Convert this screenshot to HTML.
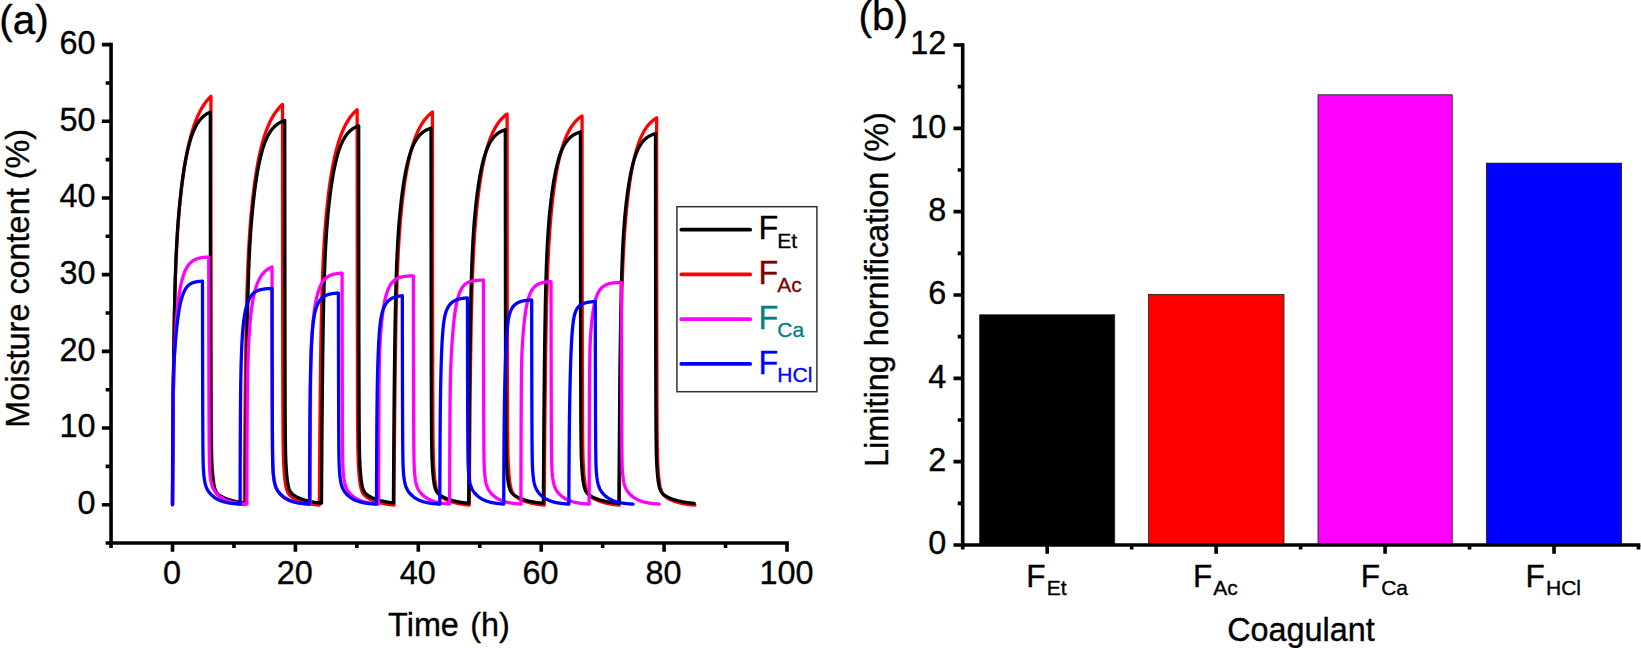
<!DOCTYPE html>
<html lang="en">
<head>
<meta charset="utf-8">
<title>Moisture content and limiting hornification</title>
<style>html,body{margin:0;padding:0;background:#fff;}body{width:1641px;height:648px;overflow:hidden;}svg{display:block;}text{white-space:pre;}</style>
</head>
<body>
<svg width="1641" height="648" viewBox="0 0 1641 648">
<rect x="0" y="0" width="1641" height="648" fill="#fff"/>
<g fill="none" stroke-width="3.3" stroke-linejoin="round" stroke-linecap="round">
<path stroke="#ff0000" d="M172.50 504.70L172.50 504.57L172.50 504.12L172.51 503.28L172.52 502.04L172.53 500.37L172.54 498.26L172.55 495.71L172.57 492.72L172.59 489.29L172.62 485.43L172.64 481.16L172.67 476.49L172.71 471.44L172.74 466.03L172.78 460.30L172.83 454.27L172.87 447.97L172.92 441.43L172.97 434.68L173.03 427.75L173.09 420.68L173.16 413.51L173.22 406.26L173.29 398.96L173.37 391.65L173.45 384.35L173.53 377.10L173.61 369.91L173.70 362.81L173.80 355.83L173.89 348.97L173.99 342.25L174.10 335.70L174.21 329.31L174.32 323.10L174.44 317.08L174.56 311.24L174.68 305.59L174.81 300.14L174.94 294.87L175.08 289.79L175.22 284.89L175.36 280.17L175.51 275.63L175.66 271.24L175.82 267.01L175.98 262.93L176.14 258.99L176.31 255.19L176.49 251.50L176.66 247.94L176.85 244.48L177.03 241.12L177.22 237.85L177.42 234.67L177.62 231.56L177.82 228.53L178.03 225.57L178.24 222.67L178.45 219.83L178.68 217.05L178.90 214.31L179.13 211.63L179.36 208.98L179.60 206.38L179.84 203.82L180.09 201.30L180.34 198.81L180.60 196.37L180.86 193.95L181.12 191.57L181.39 189.22L181.67 186.91L181.95 184.62L182.23 182.37L182.52 180.15L182.81 177.97L183.11 175.81L183.41 173.68L183.71 171.59L184.02 169.52L184.34 167.49L184.66 165.49L184.98 163.52L185.31 161.58L185.65 159.67L185.99 157.79L186.33 155.94L186.68 154.12L187.03 152.33L187.39 150.57L187.75 148.84L188.12 147.14L188.49 145.47L188.86 143.82L189.25 142.21L189.63 140.63L190.02 139.07L190.42 137.55L190.82 136.05L191.23 134.58L191.64 133.14L192.05 131.72L192.47 130.33L192.90 128.97L193.33 127.64L193.76 126.33L194.20 125.05L194.64 123.80L195.09 122.57L195.55 121.36L196.01 120.18L196.47 119.03L196.94 117.90L197.41 116.80L197.89 115.72L198.38 114.66L198.87 113.63L199.36 112.62L199.86 111.64L200.36 110.67L200.87 109.73L201.39 108.82L201.91 107.92L202.43 107.05L202.96 106.20L203.49 105.36L204.03 104.55L204.58 103.77L205.13 103.00L205.68 102.25L206.24 101.52L206.81 100.81L207.38 100.12L207.95 99.45L208.53 98.79L209.12 98.16L209.71 97.54L210.31 96.94L210.91 96.36L210.91 96.38L210.91 96.48L210.91 96.77L210.91 97.33L210.91 98.26L210.91 99.63L210.91 101.54L210.91 104.07L210.91 107.28L210.91 111.25L210.92 116.04L210.92 121.70L210.92 128.25L210.93 135.73L210.93 144.13L210.94 153.46L210.95 163.68L210.95 174.76L210.96 186.62L210.97 199.20L210.98 212.40L210.99 226.10L211.01 240.20L211.02 254.57L211.03 269.06L211.05 283.55L211.07 297.89L211.09 311.96L211.11 325.64L211.13 338.80L211.15 351.36L211.17 363.23L211.20 374.35L211.23 384.68L211.26 394.18L211.29 402.85L211.32 410.71L211.35 417.76L211.39 424.06L211.43 429.64L211.47 434.57L211.51 438.91L211.56 442.71L211.60 446.06L211.65 449.00L211.70 451.59L211.76 453.90L211.81 455.98L211.87 457.85L211.93 459.57L211.99 461.17L212.06 462.66L212.12 464.08L212.19 465.43L212.27 466.74L212.34 468.00L212.42 469.23L212.50 470.42L212.59 471.59L212.67 472.73L212.76 473.84L212.85 474.93L212.95 475.99L213.05 477.02L213.15 478.02L213.26 479.00L213.37 479.94L213.48 480.85L213.59 481.73L213.71 482.58L213.83 483.40L213.96 484.18L214.09 484.93L214.22 485.65L214.36 486.34L214.50 487.00L214.64 487.63L214.79 488.22L214.94 488.79L215.09 489.33L215.25 489.85L215.41 490.34L215.58 490.80L215.75 491.24L215.93 491.66L216.11 492.06L216.29 492.43L216.48 492.79L216.67 493.14L216.87 493.46L217.07 493.77L217.27 494.07L217.48 494.36L217.70 494.63L217.92 494.89L218.14 495.14L218.37 495.39L218.60 495.62L218.84 495.85L219.08 496.08L219.33 496.29L219.58 496.50L219.84 496.71L220.10 496.91L220.37 497.11L220.64 497.31L220.92 497.50L221.21 497.68L221.49 497.87L221.79 498.05L222.09 498.23L222.39 498.41L222.70 498.59L223.02 498.77L223.34 498.94L223.67 499.11L224.00 499.28L224.34 499.45L224.68 499.61L225.03 499.78L225.39 499.94L225.75 500.10L226.12 500.26L226.50 500.42L226.88 500.58L227.26 500.73L227.65 500.88L228.05 501.03L228.46 501.18L228.87 501.33L229.29 501.47L229.71 501.61L230.14 501.76L230.58 501.89L231.02 502.03L231.47 502.17L231.93 502.30L232.39 502.43L232.86 502.56L233.34 502.68L233.83 502.80L234.32 502.93L234.82 503.04L235.32 503.16L235.83 503.27L236.35 503.39L236.88 503.50L237.41 503.60L237.95 503.71L238.50 503.81L239.06 503.91L239.62 504.01L240.19 504.10L240.77 504.20L241.35 504.29L241.95 504.38L242.55 504.46L243.16 504.55L243.77 504.63L244.40 504.71L244.40 504.70L244.40 504.58L244.40 504.13L244.40 503.32L244.41 502.11L244.42 500.48L244.43 498.43L244.45 495.94L244.47 493.02L244.49 489.68L244.51 485.92L244.54 481.75L244.57 477.19L244.60 472.27L244.64 466.99L244.68 461.40L244.72 455.51L244.76 449.35L244.81 442.96L244.87 436.36L244.92 429.58L244.98 422.67L245.05 415.64L245.11 408.54L245.18 401.39L245.26 394.22L245.33 387.07L245.42 379.95L245.50 372.89L245.59 365.91L245.68 359.04L245.78 352.29L245.88 345.68L245.98 339.22L246.09 332.92L246.20 326.80L246.32 320.85L246.44 315.09L246.56 309.50L246.69 304.11L246.82 298.90L246.95 293.87L247.09 289.02L247.23 284.34L247.38 279.83L247.53 275.48L247.69 271.29L247.85 267.24L248.01 263.33L248.18 259.55L248.35 255.89L248.53 252.35L248.71 248.92L248.89 245.58L249.08 242.34L249.27 239.19L249.47 236.11L249.67 233.11L249.88 230.17L250.09 227.30L250.30 224.49L250.52 221.73L250.75 219.03L250.97 216.37L251.20 213.76L251.44 211.19L251.68 208.67L251.93 206.18L252.18 203.73L252.43 201.31L252.69 198.94L252.95 196.59L253.22 194.28L253.49 192.01L253.77 189.76L254.05 187.55L254.33 185.37L254.62 183.23L254.92 181.11L255.22 179.03L255.52 176.98L255.83 174.95L256.14 172.96L256.46 171.00L256.78 169.08L257.11 167.18L257.44 165.31L257.77 163.48L258.11 161.67L258.46 159.90L258.81 158.15L259.16 156.44L259.52 154.76L259.89 153.10L260.26 151.48L260.63 149.88L261.01 148.32L261.39 146.78L261.78 145.27L262.17 143.79L262.57 142.34L262.97 140.91L263.38 139.52L263.79 138.15L264.21 136.81L264.63 135.50L265.06 134.21L265.49 132.95L265.92 131.71L266.36 130.50L266.81 129.32L267.26 128.17L267.72 127.03L268.18 125.93L268.64 124.84L269.11 123.79L269.59 122.75L270.07 121.74L270.55 120.76L271.04 119.79L271.54 118.85L272.04 117.93L272.54 117.04L273.05 116.17L273.57 115.31L274.09 114.48L274.61 113.68L275.14 112.89L275.68 112.12L276.22 111.37L276.76 110.65L277.31 109.94L277.87 109.25L278.43 108.58L279.00 107.93L279.57 107.30L280.14 106.69L280.72 106.10L281.31 105.52L281.90 104.96L282.50 104.41L282.50 104.43L282.50 104.54L282.50 104.85L282.50 105.46L282.50 106.45L282.50 107.93L282.50 109.98L282.50 112.69L282.50 116.14L282.50 120.39L282.51 125.51L282.51 131.55L282.52 138.53L282.52 146.49L282.53 155.40L282.53 165.27L282.54 176.05L282.55 187.68L282.56 200.09L282.57 213.18L282.58 226.84L282.59 240.96L282.61 255.39L282.62 269.99L282.64 284.62L282.65 299.12L282.67 313.36L282.69 327.21L282.72 340.53L282.74 353.23L282.76 365.22L282.79 376.43L282.82 386.81L282.85 396.33L282.88 404.99L282.92 412.80L282.95 419.79L282.99 426.00L283.03 431.48L283.07 436.30L283.12 440.52L283.16 444.21L283.21 447.44L283.26 450.29L283.32 452.80L283.37 455.03L283.43 457.04L283.49 458.88L283.55 460.56L283.62 462.14L283.69 463.62L283.76 465.03L283.84 466.39L283.91 467.70L283.99 468.97L284.08 470.21L284.16 471.42L284.25 472.60L284.34 473.76L284.44 474.88L284.54 475.97L284.64 477.04L284.75 478.07L284.86 479.08L284.97 480.05L285.08 480.99L285.20 481.89L285.33 482.76L285.45 483.59L285.58 484.40L285.72 485.16L285.86 485.90L286.00 486.59L286.14 487.26L286.29 487.89L286.45 488.50L286.60 489.07L286.77 489.61L286.93 490.13L287.10 490.62L287.28 491.08L287.46 491.52L287.64 491.94L287.83 492.34L288.02 492.71L288.22 493.07L288.42 493.41L288.63 493.73L288.84 494.04L289.06 494.34L289.28 494.62L289.50 494.89L289.74 495.15L289.97 495.40L290.21 495.65L290.46 495.88L290.71 496.11L290.97 496.33L291.23 496.55L291.50 496.76L291.77 496.97L292.05 497.17L292.33 497.37L292.62 497.57L292.92 497.76L293.22 497.95L293.52 498.14L293.83 498.33L294.15 498.51L294.48 498.69L294.81 498.87L295.14 499.05L295.48 499.23L295.83 499.40L296.19 499.57L296.55 499.74L296.91 499.91L297.29 500.08L297.66 500.24L298.05 500.40L298.44 500.57L298.84 500.73L299.25 500.88L299.66 501.04L300.08 501.19L300.50 501.34L300.93 501.49L301.37 501.64L301.82 501.78L302.27 501.93L302.73 502.07L303.20 502.20L303.67 502.34L304.15 502.47L304.64 502.61L305.14 502.73L305.64 502.86L306.15 502.98L306.67 503.11L307.20 503.22L307.73 503.34L308.27 503.46L308.82 503.57L309.37 503.68L309.94 503.78L310.51 503.89L311.09 503.99L311.68 504.09L312.27 504.18L312.88 504.28L313.49 504.37L314.11 504.46L314.73 504.55L315.37 504.63L316.02 504.71L316.67 504.79L317.33 504.87L318.00 504.94L318.68 505.02L319.37 505.09L319.37 504.70L319.37 504.58L319.37 504.14L319.37 503.35L319.38 502.16L319.39 500.56L319.40 498.55L319.42 496.11L319.44 493.24L319.46 489.96L319.48 486.27L319.51 482.18L319.54 477.70L319.57 472.86L319.60 467.68L319.64 462.18L319.69 456.39L319.73 450.34L319.78 444.05L319.83 437.55L319.89 430.88L319.95 424.07L320.01 417.15L320.08 410.14L320.15 403.09L320.22 396.02L320.30 388.95L320.38 381.91L320.46 374.93L320.55 368.03L320.64 361.23L320.74 354.54L320.84 347.99L320.94 341.58L321.04 335.33L321.16 329.25L321.27 323.34L321.39 317.60L321.51 312.05L321.64 306.68L321.77 301.49L321.90 296.48L322.04 291.64L322.18 286.97L322.33 282.47L322.48 278.13L322.63 273.94L322.79 269.89L322.95 265.99L323.12 262.21L323.29 258.56L323.46 255.02L323.64 251.58L323.83 248.25L324.01 245.01L324.20 241.86L324.40 238.79L324.60 235.79L324.80 232.87L325.01 230.00L325.22 227.20L325.44 224.46L325.66 221.76L325.89 219.12L326.12 216.52L326.35 213.97L326.59 211.46L326.83 208.99L327.08 206.56L327.33 204.16L327.59 201.81L327.85 199.49L328.12 197.20L328.39 194.95L328.66 192.73L328.94 190.54L329.22 188.39L329.51 186.27L329.80 184.18L330.10 182.13L330.40 180.10L330.70 178.11L331.01 176.15L331.33 174.23L331.65 172.33L331.97 170.47L332.30 168.63L332.64 166.83L332.97 165.06L333.32 163.32L333.66 161.61L334.01 159.93L334.37 158.28L334.73 156.66L335.10 155.07L335.47 153.52L335.84 151.99L336.22 150.49L336.61 149.01L337.00 147.57L337.39 146.16L337.79 144.77L338.19 143.42L338.60 142.09L339.02 140.79L339.43 139.51L339.86 138.26L340.29 137.04L340.72 135.85L341.16 134.68L341.60 133.54L342.04 132.42L342.50 131.33L342.95 130.26L343.41 129.22L343.88 128.20L344.35 127.21L344.83 126.24L345.31 125.29L345.80 124.37L346.29 123.47L346.78 122.59L347.28 121.73L347.79 120.90L348.30 120.09L348.82 119.30L349.34 118.53L349.86 117.78L350.40 117.05L350.93 116.34L351.47 115.65L352.02 114.98L352.57 114.33L353.12 113.70L353.69 113.09L354.25 112.49L354.82 111.92L355.40 111.36L355.98 110.82L356.57 110.29L357.16 109.78L357.16 109.80L357.16 109.91L357.16 110.22L357.16 110.81L357.16 111.79L357.16 113.24L357.16 115.26L357.16 117.92L357.16 121.32L357.17 125.50L357.17 130.54L357.17 136.48L357.18 143.36L357.18 151.18L357.19 159.96L357.19 169.67L357.20 180.27L357.21 191.72L357.22 203.93L357.23 216.81L357.24 230.26L357.25 244.15L357.27 258.35L357.28 272.72L357.30 287.12L357.32 301.40L357.33 315.42L357.35 329.04L357.38 342.16L357.40 354.67L357.43 366.48L357.45 377.52L357.48 387.74L357.51 397.12L357.54 405.66L357.58 413.35L357.61 420.24L357.65 426.37L357.69 431.77L357.73 436.53L357.78 440.70L357.82 444.35L357.87 447.55L357.92 450.37L357.98 452.86L358.03 455.08L358.09 457.08L358.15 458.90L358.22 460.58L358.28 462.15L358.35 463.63L358.42 465.04L358.50 466.39L358.57 467.70L358.65 468.98L358.74 470.21L358.82 471.42L358.91 472.60L359.01 473.76L359.10 474.88L359.20 475.97L359.30 477.04L359.41 478.07L359.52 479.08L359.63 480.05L359.75 480.99L359.86 481.89L359.99 482.76L360.11 483.59L360.24 484.40L360.38 485.16L360.52 485.90L360.66 486.59L360.80 487.26L360.95 487.89L361.11 488.50L361.27 489.07L361.43 489.61L361.60 490.13L361.77 490.62L361.94 491.08L362.12 491.52L362.30 491.94L362.49 492.34L362.69 492.71L362.88 493.07L363.08 493.41L363.29 493.73L363.50 494.04L363.72 494.34L363.94 494.62L364.17 494.89L364.40 495.15L364.63 495.40L364.87 495.65L365.12 495.88L365.37 496.11L365.63 496.33L365.89 496.55L366.16 496.76L366.43 496.97L366.71 497.17L366.99 497.37L367.28 497.57L367.58 497.76L367.88 497.95L368.18 498.14L368.50 498.33L368.81 498.51L369.14 498.69L369.47 498.87L369.80 499.05L370.15 499.23L370.49 499.40L370.85 499.57L371.21 499.74L371.57 499.91L371.95 500.08L372.33 500.24L372.71 500.40L373.10 500.57L373.50 500.73L373.91 500.88L374.32 501.04L374.74 501.19L375.16 501.34L375.60 501.49L376.03 501.64L376.48 501.78L376.93 501.93L377.39 502.07L377.86 502.20L378.33 502.34L378.82 502.47L379.30 502.61L379.80 502.73L380.30 502.86L380.81 502.98L381.33 503.11L381.86 503.22L382.39 503.34L382.93 503.46L383.48 503.57L384.04 503.68L384.60 503.78L385.17 503.89L385.75 503.99L386.34 504.09L386.93 504.18L387.54 504.28L388.15 504.37L388.77 504.46L389.40 504.55L390.03 504.63L390.68 504.71L391.33 504.79L391.99 504.87L392.66 504.94L393.34 505.02L394.03 505.09L394.03 504.70L394.03 504.58L394.03 504.14L394.04 503.33L394.04 502.13L394.05 500.52L394.06 498.48L394.08 496.01L394.10 493.12L394.12 489.80L394.14 486.07L394.17 481.94L394.20 477.42L394.23 472.54L394.27 467.31L394.31 461.76L394.35 455.92L394.40 449.82L394.45 443.48L394.50 436.94L394.56 430.22L394.62 423.37L394.68 416.40L394.75 409.36L394.82 402.27L394.89 395.17L394.97 388.07L395.06 381.01L395.14 374.01L395.23 367.09L395.32 360.28L395.42 353.58L395.52 347.02L395.63 340.61L395.73 334.36L395.85 328.28L395.96 322.37L396.08 316.64L396.21 311.09L396.34 305.73L396.47 300.54L396.60 295.54L396.74 290.71L396.89 286.05L397.04 281.56L397.19 277.23L397.35 273.04L397.51 269.00L397.67 265.10L397.84 261.33L398.01 257.68L398.19 254.14L398.37 250.71L398.56 247.38L398.75 244.15L398.94 240.99L399.14 237.92L399.35 234.93L399.55 232.00L399.77 229.14L399.98 226.33L400.20 223.59L400.43 220.90L400.66 218.25L400.89 215.66L401.13 213.11L401.37 210.60L401.62 208.14L401.87 205.72L402.13 203.33L402.39 200.98L402.65 198.67L402.92 196.40L403.19 194.16L403.47 191.96L403.76 189.79L404.04 187.66L404.34 185.56L404.63 183.49L404.93 181.46L405.24 179.46L405.55 177.50L405.87 175.57L406.19 173.67L406.51 171.80L406.84 169.97L407.17 168.17L407.51 166.40L407.86 164.67L408.20 162.97L408.56 161.29L408.91 159.65L409.28 158.05L409.64 156.47L410.02 154.92L410.39 153.41L410.77 151.92L411.16 150.47L411.55 149.05L411.95 147.65L412.35 146.29L412.75 144.95L413.16 143.64L413.58 142.36L414.00 141.11L414.42 139.89L414.85 138.69L415.29 137.52L415.73 136.38L416.17 135.27L416.62 134.18L417.08 133.12L417.53 132.08L418.00 131.07L418.47 130.08L418.94 129.12L419.42 128.18L419.91 127.27L420.39 126.38L420.89 125.51L421.39 124.67L421.89 123.84L422.40 123.05L422.91 122.27L423.43 121.51L423.96 120.78L424.49 120.07L425.02 119.37L425.56 118.70L426.11 118.05L426.66 117.42L427.21 116.80L427.77 116.21L428.34 115.63L428.91 115.07L429.48 114.53L430.06 114.01L430.65 113.50L431.24 113.01L431.83 112.54L432.43 112.08L432.43 112.10L432.43 112.21L432.43 112.51L432.43 113.10L432.43 114.07L432.44 115.52L432.44 117.52L432.44 120.17L432.44 123.54L432.44 127.69L432.45 132.70L432.45 138.60L432.45 145.42L432.46 153.19L432.46 161.91L432.47 171.55L432.48 182.08L432.49 193.45L432.50 205.57L432.51 218.37L432.52 231.72L432.53 245.52L432.54 259.62L432.56 273.89L432.57 288.19L432.59 302.37L432.61 316.29L432.63 329.83L432.65 342.86L432.68 355.29L432.70 367.01L432.73 377.98L432.76 388.14L432.79 397.46L432.82 405.94L432.85 413.59L432.89 420.44L432.93 426.52L432.97 431.90L433.01 436.63L433.05 440.78L433.10 444.42L433.15 447.60L433.20 450.40L433.25 452.89L433.31 455.10L433.37 457.09L433.43 458.91L433.49 460.59L433.56 462.15L433.63 463.63L433.70 465.04L433.77 466.40L433.85 467.70L433.93 468.98L434.01 470.22L434.10 471.42L434.19 472.60L434.28 473.76L434.38 474.88L434.48 475.97L434.58 477.04L434.68 478.07L434.79 479.08L434.91 480.05L435.02 480.99L435.14 481.89L435.26 482.76L435.39 483.59L435.52 484.40L435.66 485.16L435.79 485.90L435.94 486.59L436.08 487.26L436.23 487.89L436.38 488.50L436.54 489.07L436.71 489.61L436.87 490.13L437.04 490.62L437.22 491.08L437.40 491.52L437.58 491.94L437.77 492.34L437.96 492.71L438.16 493.07L438.36 493.41L438.57 493.73L438.78 494.04L439.00 494.34L439.22 494.62L439.44 494.89L439.67 495.15L439.91 495.40L440.15 495.65L440.40 495.88L440.65 496.11L440.91 496.33L441.17 496.55L441.43 496.76L441.71 496.97L441.99 497.17L442.27 497.37L442.56 497.57L442.85 497.76L443.15 497.95L443.46 498.14L443.77 498.33L444.09 498.51L444.41 498.69L444.74 498.87L445.08 499.05L445.42 499.23L445.77 499.40L446.12 499.57L446.48 499.74L446.85 499.91L447.22 500.08L447.60 500.24L447.99 500.40L448.38 500.57L448.78 500.73L449.18 500.88L449.60 501.04L450.01 501.19L450.44 501.34L450.87 501.49L451.31 501.64L451.76 501.78L452.21 501.93L452.67 502.07L453.14 502.20L453.61 502.34L454.09 502.47L454.58 502.61L455.08 502.73L455.58 502.86L456.09 502.98L456.61 503.11L457.13 503.22L457.67 503.34L458.21 503.46L458.76 503.57L459.31 503.68L459.88 503.78L460.45 503.89L461.03 503.99L461.61 504.09L462.21 504.18L462.81 504.28L463.43 504.37L464.04 504.46L464.67 504.55L465.31 504.63L465.95 504.71L466.61 504.79L467.27 504.87L467.94 504.94L468.62 505.02L469.30 505.09L469.30 504.70L469.30 504.58L469.31 504.15L469.31 503.36L469.32 502.17L469.33 500.59L469.34 498.58L469.36 496.16L469.37 493.31L469.39 490.05L469.42 486.38L469.44 482.31L469.47 477.86L469.51 473.05L469.54 467.90L469.58 462.43L469.62 456.66L469.67 450.64L469.72 444.37L469.77 437.90L469.83 431.26L469.89 424.47L469.95 417.57L470.01 410.59L470.08 403.56L470.16 396.50L470.23 389.44L470.31 382.41L470.40 375.44L470.49 368.54L470.58 361.74L470.67 355.05L470.77 348.49L470.88 342.07L470.98 335.80L471.09 329.70L471.21 323.77L471.33 318.01L471.45 312.43L471.57 307.03L471.70 301.80L471.84 296.76L471.98 291.88L472.12 287.18L472.26 282.64L472.42 278.26L472.57 274.03L472.73 269.94L472.89 266.00L473.06 262.18L473.23 258.49L473.40 254.91L473.58 251.44L473.76 248.07L473.95 244.80L474.14 241.62L474.34 238.52L474.54 235.49L474.74 232.54L474.95 229.65L475.16 226.83L475.38 224.07L475.60 221.36L475.83 218.70L476.06 216.10L476.29 213.54L476.53 211.03L476.77 208.56L477.02 206.13L477.27 203.74L477.53 201.39L477.79 199.08L478.05 196.81L478.32 194.58L478.60 192.38L478.88 190.21L479.16 188.09L479.45 186.00L479.74 183.94L480.04 181.92L480.34 179.93L480.64 177.98L480.95 176.06L481.27 174.17L481.59 172.32L481.91 170.50L482.24 168.72L482.57 166.97L482.91 165.25L483.25 163.56L483.60 161.91L483.95 160.29L484.31 158.70L484.67 157.15L485.04 155.62L485.41 154.13L485.78 152.66L486.16 151.23L486.55 149.83L486.94 148.46L487.33 147.12L487.73 145.81L488.13 144.52L488.54 143.27L488.95 142.04L489.37 140.84L489.80 139.68L490.22 138.53L490.66 137.42L491.09 136.33L491.54 135.27L491.98 134.23L492.43 133.22L492.89 132.24L493.35 131.28L493.82 130.35L494.29 129.44L494.77 128.55L495.25 127.69L495.73 126.85L496.23 126.04L496.72 125.25L497.22 124.47L497.73 123.73L498.24 123.00L498.76 122.29L499.28 121.61L499.80 120.94L500.33 120.30L500.87 119.68L501.41 119.07L501.96 118.48L502.51 117.92L503.06 117.37L503.62 116.84L504.19 116.32L504.76 115.82L505.34 115.34L505.92 114.88L506.50 114.43L507.10 114.00L507.10 114.01L507.10 114.13L507.10 114.43L507.10 115.02L507.10 116.00L507.10 117.44L507.10 119.45L507.10 122.10L507.10 125.48L507.10 129.64L507.11 134.66L507.11 140.57L507.12 147.41L507.12 155.19L507.13 163.91L507.13 173.56L507.14 184.10L507.15 195.47L507.16 207.60L507.17 220.39L507.18 233.73L507.19 247.51L507.21 261.58L507.22 275.82L507.24 290.07L507.25 304.19L507.27 318.05L507.29 331.51L507.32 344.46L507.34 356.80L507.37 368.43L507.39 379.30L507.42 389.35L507.45 398.57L507.48 406.95L507.52 414.50L507.56 421.25L507.59 427.25L507.63 432.55L507.68 437.20L507.72 441.28L507.77 444.86L507.82 447.99L507.87 450.75L507.92 453.20L507.98 455.38L508.04 457.35L508.10 459.15L508.16 460.81L508.23 462.37L508.30 463.84L508.37 465.24L508.45 466.59L508.52 467.90L508.61 469.17L508.69 470.40L508.78 471.61L508.87 472.79L508.96 473.94L509.06 475.06L509.16 476.16L509.26 477.22L509.36 478.25L509.47 479.25L509.59 480.22L509.70 481.15L509.83 482.05L509.95 482.92L510.08 483.75L510.21 484.55L510.34 485.31L510.48 486.04L510.63 486.73L510.77 487.39L510.92 488.02L511.08 488.62L511.24 489.19L511.40 489.73L511.57 490.24L511.74 490.72L511.92 491.18L512.10 491.62L512.29 492.03L512.47 492.42L512.67 492.80L512.87 493.15L513.07 493.49L513.28 493.81L513.49 494.11L513.71 494.41L513.94 494.69L514.16 494.96L514.40 495.22L514.63 495.47L514.88 495.71L515.13 495.94L515.38 496.17L515.64 496.39L515.90 496.61L516.17 496.82L516.45 497.03L516.73 497.23L517.01 497.43L517.31 497.63L517.60 497.82L517.91 498.01L518.21 498.20L518.53 498.38L518.85 498.57L519.18 498.75L519.51 498.93L519.85 499.10L520.19 499.28L520.54 499.45L520.90 499.63L521.26 499.80L521.63 499.96L522.01 500.13L522.39 500.30L522.78 500.46L523.17 500.62L523.58 500.78L523.99 500.94L524.40 501.09L524.82 501.24L525.25 501.39L525.69 501.54L526.13 501.69L526.58 501.83L527.04 501.98L527.50 502.12L527.97 502.25L528.45 502.39L528.93 502.52L529.43 502.65L529.93 502.78L530.43 502.91L530.95 503.03L531.47 503.15L532.00 503.27L532.54 503.39L533.08 503.50L533.64 503.61L534.20 503.72L534.77 503.82L535.34 503.93L535.93 504.03L536.52 504.13L537.12 504.22L537.73 504.32L538.35 504.41L538.97 504.50L539.60 504.58L540.24 504.67L540.89 504.75L541.55 504.82L542.22 504.90L542.90 504.97L543.58 505.05L544.27 505.12L544.27 504.70L544.27 504.58L544.28 504.15L544.28 503.36L544.29 502.18L544.30 500.60L544.31 498.60L544.32 496.18L544.34 493.33L544.36 490.08L544.39 486.41L544.41 482.35L544.44 477.91L544.48 473.11L544.51 467.96L544.55 462.50L544.59 456.74L544.64 450.72L544.69 444.46L544.74 438.00L544.80 431.36L544.85 424.58L544.92 417.68L544.98 410.70L545.05 403.66L545.13 396.60L545.20 389.54L545.28 382.51L545.37 375.53L545.46 368.62L545.55 361.81L545.64 355.11L545.74 348.53L545.85 342.10L545.95 335.82L546.06 329.70L546.18 323.74L546.30 317.97L546.42 312.36L546.54 306.94L546.67 301.69L546.81 296.62L546.95 291.72L547.09 286.99L547.23 282.42L547.38 278.02L547.54 273.76L547.70 269.65L547.86 265.68L548.03 261.84L548.20 258.12L548.37 254.52L548.55 251.03L548.73 247.64L548.92 244.35L549.11 241.14L549.31 238.02L549.51 234.98L549.71 232.01L549.92 229.11L550.13 226.28L550.35 223.51L550.57 220.79L550.80 218.13L551.03 215.52L551.26 212.95L551.50 210.44L551.74 207.97L551.99 205.54L552.24 203.16L552.50 200.81L552.76 198.51L553.02 196.24L553.29 194.02L553.57 191.83L553.85 189.68L554.13 187.57L554.42 185.49L554.71 183.45L555.00 181.45L555.31 179.48L555.61 177.55L555.92 175.65L556.24 173.79L556.56 171.97L556.88 170.17L557.21 168.42L557.54 166.69L557.88 165.01L558.22 163.35L558.57 161.73L558.92 160.14L559.28 158.59L559.64 157.06L560.00 155.57L560.38 154.12L560.75 152.69L561.13 151.30L561.52 149.93L561.90 148.60L562.30 147.30L562.70 146.03L563.10 144.78L563.51 143.57L563.92 142.39L564.34 141.23L564.76 140.10L565.19 139.01L565.62 137.93L566.06 136.89L566.50 135.87L566.95 134.88L567.40 133.92L567.86 132.98L568.32 132.07L568.79 131.18L569.26 130.31L569.74 129.47L570.22 128.66L570.70 127.87L571.19 127.10L571.69 126.35L572.19 125.62L572.70 124.92L573.21 124.24L573.72 123.58L574.25 122.94L574.77 122.32L575.30 121.72L575.84 121.14L576.38 120.58L576.92 120.03L577.48 119.51L578.03 119.00L578.59 118.51L579.16 118.04L579.73 117.58L580.31 117.14L580.89 116.72L581.47 116.31L582.06 115.92L582.06 115.93L582.06 116.04L582.06 116.35L582.06 116.93L582.07 117.90L582.07 119.34L582.07 121.34L582.07 123.97L582.07 127.33L582.07 131.47L582.08 136.45L582.08 142.33L582.08 149.13L582.09 156.86L582.09 165.54L582.10 175.13L582.11 185.61L582.12 196.91L582.13 208.97L582.14 221.68L582.15 234.94L582.16 248.64L582.17 262.63L582.19 276.79L582.21 290.96L582.22 305.00L582.24 318.78L582.26 332.16L582.29 345.04L582.31 357.30L582.33 368.87L582.36 379.68L582.39 389.68L582.42 398.85L582.45 407.18L582.49 414.69L582.52 421.41L582.56 427.38L582.60 432.65L582.65 437.28L582.69 441.35L582.74 444.91L582.79 448.03L582.84 450.78L582.89 453.22L582.95 455.40L583.01 457.36L583.07 459.16L583.13 460.82L583.20 462.37L583.27 463.84L583.34 465.24L583.42 466.59L583.49 467.90L583.57 469.17L583.66 470.41L583.75 471.61L583.84 472.79L583.93 473.94L584.02 475.06L584.12 476.16L584.23 477.22L584.33 478.25L584.44 479.25L584.56 480.22L584.67 481.15L584.79 482.05L584.92 482.92L585.05 483.75L585.18 484.55L585.31 485.31L585.45 486.04L585.60 486.73L585.74 487.39L585.89 488.02L586.05 488.62L586.21 489.19L586.37 489.73L586.54 490.24L586.71 490.72L586.89 491.18L587.07 491.62L587.25 492.03L587.44 492.42L587.64 492.80L587.84 493.15L588.04 493.49L588.25 493.81L588.46 494.11L588.68 494.41L588.90 494.69L589.13 494.96L589.36 495.22L589.60 495.47L589.85 495.71L590.09 495.94L590.35 496.17L590.61 496.39L590.87 496.61L591.14 496.82L591.42 497.03L591.70 497.23L591.98 497.43L592.27 497.63L592.57 497.82L592.87 498.01L593.18 498.20L593.50 498.38L593.82 498.57L594.15 498.75L594.48 498.93L594.82 499.10L595.16 499.28L595.51 499.45L595.87 499.63L596.23 499.80L596.60 499.96L596.98 500.13L597.36 500.30L597.75 500.46L598.14 500.62L598.55 500.78L598.95 500.94L599.37 501.09L599.79 501.24L600.22 501.39L600.66 501.54L601.10 501.69L601.55 501.83L602.01 501.98L602.47 502.12L602.94 502.25L603.42 502.39L603.90 502.52L604.40 502.65L604.90 502.78L605.40 502.91L605.92 503.03L606.44 503.15L606.97 503.27L607.51 503.39L608.05 503.50L608.61 503.61L609.17 503.72L609.74 503.82L610.31 503.93L610.90 504.03L611.49 504.13L612.09 504.22L612.70 504.32L613.31 504.41L613.94 504.50L614.57 504.58L615.21 504.67L615.86 504.75L616.52 504.82L617.19 504.90L617.86 504.97L618.55 505.05L619.24 505.12L619.24 504.70L619.24 504.58L619.24 504.16L619.25 503.38L619.26 502.22L619.27 500.66L619.28 498.69L619.29 496.30L619.31 493.50L619.33 490.29L619.35 486.68L619.38 482.67L619.41 478.29L619.44 473.55L619.48 468.47L619.52 463.07L619.56 457.38L619.60 451.43L619.65 445.25L619.70 438.85L619.76 432.28L619.82 425.56L619.88 418.73L619.94 411.80L620.01 404.82L620.09 397.81L620.16 390.80L620.24 383.81L620.32 376.86L620.41 369.98L620.50 363.19L620.60 356.51L620.69 349.95L620.80 343.52L620.90 337.24L621.01 331.12L621.12 325.16L621.24 319.37L621.36 313.75L621.49 308.30L621.62 303.03L621.75 297.93L621.88 293.01L622.02 288.24L622.17 283.65L622.32 279.20L622.47 274.91L622.63 270.76L622.79 266.75L622.95 262.88L623.12 259.12L623.29 255.48L623.47 251.96L623.65 248.53L623.84 245.20L624.02 241.96L624.22 238.81L624.42 235.74L624.62 232.74L624.82 229.81L625.03 226.95L625.25 224.15L625.47 221.40L625.69 218.72L625.92 216.08L626.15 213.50L626.39 210.96L626.63 208.47L626.87 206.03L627.12 203.63L627.37 201.27L627.63 198.95L627.89 196.68L628.16 194.44L628.43 192.24L628.71 190.08L628.99 187.96L629.27 185.88L629.56 183.84L629.85 181.83L630.15 179.86L630.45 177.93L630.76 176.04L631.07 174.18L631.39 172.36L631.71 170.57L632.03 168.82L632.36 167.10L632.69 165.42L633.03 163.78L633.38 162.17L633.72 160.60L634.08 159.06L634.43 157.55L634.79 156.08L635.16 154.64L635.53 153.23L635.91 151.86L636.29 150.51L636.67 149.20L637.06 147.93L637.46 146.68L637.86 145.46L638.26 144.28L638.67 143.12L639.08 141.99L639.50 140.89L639.92 139.83L640.35 138.78L640.78 137.77L641.22 136.79L641.66 135.83L642.11 134.90L642.56 133.99L643.02 133.11L643.48 132.26L643.94 131.43L644.42 130.62L644.89 129.84L645.37 129.08L645.86 128.35L646.35 127.63L646.84 126.94L647.34 126.28L647.85 125.63L648.36 125.00L648.87 124.40L649.39 123.81L649.92 123.25L650.45 122.70L650.98 122.17L651.52 121.66L652.07 121.17L652.62 120.70L653.17 120.24L653.73 119.80L654.29 119.38L654.86 118.97L655.44 118.57L656.02 118.20L656.60 117.83L656.60 117.85L656.60 117.96L656.60 118.27L656.60 118.87L656.60 119.86L656.61 121.33L656.61 123.37L656.61 126.06L656.61 129.49L656.61 133.72L656.62 138.81L656.62 144.80L656.62 151.73L656.63 159.61L656.63 168.43L656.64 178.19L656.65 188.83L656.66 200.30L656.67 212.52L656.68 225.38L656.69 238.78L656.70 252.60L656.72 266.68L656.73 280.90L656.75 295.10L656.77 309.14L656.79 322.88L656.81 336.19L656.83 348.96L656.86 361.09L656.88 372.48L656.91 383.10L656.94 392.89L656.97 401.83L657.00 409.93L657.04 417.20L657.08 423.69L657.12 429.43L657.16 434.49L657.20 438.93L657.25 442.82L657.29 446.22L657.35 449.20L657.40 451.84L657.45 454.18L657.51 456.27L657.57 458.17L657.64 459.92L657.70 461.54L657.77 463.07L657.84 464.51L657.92 465.90L657.99 467.24L658.07 468.54L658.16 469.80L658.24 471.04L658.33 472.24L658.42 473.41L658.52 474.56L658.62 475.68L658.72 476.76L658.83 477.82L658.94 478.84L659.05 479.83L659.17 480.79L659.29 481.71L659.41 482.60L659.54 483.45L659.67 484.26L659.80 485.05L659.94 485.79L660.09 486.50L660.23 487.18L660.38 487.83L660.54 488.44L660.70 489.02L660.86 489.58L661.03 490.10L661.20 490.60L661.38 491.07L661.56 491.51L661.75 491.94L661.94 492.34L662.13 492.72L662.33 493.08L662.54 493.42L662.75 493.75L662.96 494.06L663.18 494.36L663.41 494.64L663.64 494.92L663.87 495.18L664.11 495.43L664.35 495.68L664.60 495.92L664.86 496.15L665.12 496.37L665.39 496.59L665.66 496.80L665.93 497.01L666.22 497.22L666.51 497.42L666.80 497.62L667.10 497.81L667.41 498.00L667.72 498.19L668.03 498.38L668.36 498.57L668.69 498.75L669.02 498.93L669.37 499.11L669.71 499.29L670.07 499.46L670.43 499.64L670.80 499.81L671.17 499.98L671.55 500.15L671.94 500.31L672.33 500.48L672.73 500.64L673.13 500.80L673.55 500.96L673.97 501.11L674.39 501.27L674.83 501.42L675.27 501.57L675.72 501.72L676.17 501.86L676.63 502.00L677.10 502.15L677.58 502.28L678.07 502.42L678.56 502.55L679.06 502.69L679.56 502.81L680.08 502.94L680.60 503.06L681.13 503.19L681.66 503.30L682.21 503.42L682.76 503.53L683.32 503.65L683.89 503.75L684.47 503.86L685.05 503.96L685.64 504.06L686.24 504.16L686.85 504.26L687.47 504.35L688.10 504.44L688.73 504.53L689.37 504.62L690.02 504.70L690.68 504.78L691.35 504.86L692.03 504.93L692.72 505.01L693.41 505.08L694.11 505.15L694.82 505.21"/>
<path stroke="#000000" d="M172.50 504.70L172.50 504.57L172.50 504.10L172.51 503.24L172.52 501.96L172.52 500.24L172.54 498.08L172.55 495.45L172.57 492.37L172.59 488.84L172.61 484.88L172.64 480.49L172.67 475.69L172.70 470.50L172.74 464.95L172.78 459.07L172.82 452.88L172.87 446.41L172.91 439.70L172.97 432.78L173.02 425.69L173.08 418.46L173.14 411.13L173.21 403.72L173.28 396.27L173.35 388.82L173.43 381.39L173.51 374.01L173.60 366.71L173.68 359.51L173.78 352.43L173.87 345.50L173.97 338.73L174.07 332.12L174.18 325.71L174.29 319.48L174.40 313.45L174.52 307.63L174.65 302.01L174.77 296.60L174.90 291.39L175.04 286.38L175.17 281.56L175.32 276.93L175.46 272.49L175.61 268.21L175.77 264.10L175.92 260.15L176.09 256.34L176.25 252.67L176.42 249.13L176.60 245.70L176.78 242.39L176.96 239.17L177.15 236.05L177.34 233.01L177.53 230.05L177.73 227.16L177.94 224.34L178.15 221.57L178.36 218.86L178.58 216.20L178.80 213.59L179.02 211.02L179.25 208.49L179.49 206.00L179.73 203.54L179.97 201.12L180.22 198.73L180.47 196.37L180.72 194.04L180.99 191.74L181.25 189.48L181.52 187.24L181.79 185.04L182.07 182.86L182.36 180.72L182.64 178.61L182.94 176.52L183.23 174.48L183.53 172.46L183.84 170.48L184.15 168.53L184.46 166.61L184.78 164.73L185.11 162.88L185.44 161.07L185.77 159.30L186.11 157.56L186.45 155.85L186.80 154.19L187.15 152.56L187.51 150.97L187.87 149.41L188.23 147.89L188.60 146.41L188.98 144.96L189.36 143.56L189.74 142.19L190.13 140.85L190.53 139.55L190.93 138.29L191.33 137.07L191.74 135.88L192.15 134.72L192.57 133.60L192.99 132.52L193.42 131.47L193.85 130.45L194.29 129.47L194.73 128.51L195.18 127.59L195.63 126.71L196.09 125.85L196.55 125.02L197.02 124.23L197.49 123.46L197.96 122.72L198.45 122.01L198.93 121.33L199.42 120.67L199.92 120.04L200.42 119.43L200.93 118.85L201.44 118.29L201.95 117.76L202.47 117.24L203.00 116.75L203.53 116.28L204.07 115.84L204.61 115.41L205.15 115.00L205.70 114.61L206.26 114.24L206.82 113.88L207.39 113.54L207.96 113.22L208.53 112.91L209.11 112.62L209.70 112.34L210.29 112.08L210.29 112.10L210.29 112.20L210.29 112.49L210.29 113.06L210.29 113.99L210.29 115.37L210.29 117.29L210.30 119.83L210.30 123.06L210.30 127.05L210.30 131.86L210.31 137.53L210.31 144.09L210.32 151.58L210.32 159.98L210.33 169.28L210.33 179.46L210.34 190.47L210.35 202.23L210.36 214.67L210.37 227.69L210.38 241.17L210.40 254.99L210.41 269.01L210.43 283.11L210.44 297.14L210.46 310.97L210.48 324.47L210.50 337.53L210.52 350.03L210.55 361.89L210.57 373.03L210.60 383.40L210.63 392.97L210.66 401.72L210.69 409.66L210.73 416.80L210.77 423.18L210.80 428.84L210.84 433.84L210.89 438.23L210.93 442.09L210.98 445.47L211.03 448.44L211.08 451.06L211.13 453.39L211.19 455.48L211.25 457.36L211.31 459.09L211.37 460.68L211.44 462.18L211.50 463.60L211.58 464.95L211.65 466.25L211.73 467.51L211.81 468.73L211.89 469.92L211.97 471.09L212.06 472.22L212.16 473.33L212.25 474.41L212.35 475.46L212.45 476.48L212.55 477.47L212.66 478.43L212.77 479.36L212.89 480.25L213.00 481.11L213.13 481.94L213.25 482.74L213.38 483.50L213.51 484.23L213.65 484.93L213.79 485.59L213.93 486.22L214.08 486.82L214.23 487.39L214.39 487.93L214.54 488.44L214.71 488.93L214.88 489.39L215.05 489.82L215.22 490.24L215.40 490.63L215.59 490.99L215.78 491.34L215.97 491.68L216.17 491.99L216.37 492.29L216.58 492.58L216.79 492.85L217.01 493.11L217.23 493.36L217.46 493.60L217.69 493.83L217.92 494.05L218.16 494.27L218.41 494.48L218.66 494.68L218.92 494.88L219.18 495.07L219.45 495.26L219.72 495.45L220.00 495.63L220.28 495.81L220.57 495.99L220.86 496.16L221.16 496.34L221.46 496.51L221.77 496.68L222.09 496.85L222.41 497.01L222.74 497.18L223.07 497.34L223.41 497.51L223.76 497.67L224.11 497.83L224.47 497.99L224.83 498.15L225.20 498.30L225.57 498.46L225.96 498.61L226.34 498.76L226.74 498.92L227.14 499.06L227.55 499.21L227.96 499.36L228.38 499.50L228.81 499.65L229.24 499.79L229.68 499.93L230.13 500.06L230.59 500.20L231.05 500.33L231.52 500.46L231.99 500.59L232.47 500.72L232.96 500.84L233.46 500.97L233.96 501.09L234.47 501.20L234.99 501.32L235.52 501.43L236.05 501.55L236.59 501.65L237.14 501.76L237.69 501.87L238.26 501.97L238.83 502.07L239.41 502.16L239.99 502.26L240.59 502.35L241.19 502.44L241.80 502.53L242.42 502.62L243.04 502.70L243.68 502.78L244.32 502.86L244.97 502.93L245.63 503.01L245.63 503.01L245.63 503.01L245.63 503.03L245.63 503.05L245.64 501.88L245.65 500.11L245.66 497.88L245.68 495.18L245.70 492.02L245.72 488.40L245.74 484.32L245.77 479.82L245.80 474.90L245.84 469.58L245.87 463.91L245.91 457.89L245.96 451.57L246.00 444.97L246.05 438.14L246.11 431.10L246.17 423.89L246.23 416.55L246.29 409.12L246.36 401.63L246.43 394.11L246.51 386.59L246.59 379.12L246.67 371.71L246.76 364.39L246.85 357.18L246.95 350.11L247.05 343.20L247.15 336.46L247.25 329.91L247.37 323.55L247.48 317.39L247.60 311.44L247.72 305.71L247.85 300.18L247.98 294.87L248.11 289.76L248.25 284.86L248.39 280.15L248.54 275.63L248.69 271.30L248.85 267.14L249.01 263.14L249.17 259.30L249.34 255.60L249.51 252.04L249.69 248.60L249.87 245.27L250.06 242.06L250.24 238.94L250.44 235.91L250.64 232.96L250.84 230.09L251.05 227.29L251.26 224.55L251.47 221.87L251.69 219.24L251.92 216.67L252.15 214.13L252.38 211.64L252.62 209.19L252.86 206.78L253.11 204.40L253.36 202.06L253.62 199.76L253.88 197.48L254.14 195.24L254.41 193.03L254.69 190.86L254.97 188.71L255.25 186.60L255.54 184.52L255.83 182.48L256.13 180.46L256.43 178.49L256.74 176.54L257.05 174.63L257.37 172.76L257.69 170.92L258.02 169.11L258.35 167.35L258.68 165.62L259.02 163.92L259.37 162.27L259.72 160.65L260.07 159.06L260.43 157.52L260.80 156.01L261.17 154.55L261.54 153.12L261.92 151.72L262.30 150.37L262.69 149.05L263.09 147.77L263.49 146.52L263.89 145.31L264.30 144.14L264.71 143.01L265.13 141.91L265.55 140.84L265.98 139.81L266.41 138.82L266.85 137.85L267.29 136.92L267.74 136.03L268.19 135.16L268.65 134.33L269.12 133.52L269.58 132.75L270.06 132.01L270.54 131.29L271.02 130.60L271.51 129.94L272.00 129.31L272.50 128.70L273.00 128.12L273.51 127.56L274.02 127.03L274.54 126.52L275.07 126.03L275.60 125.56L276.13 125.12L276.67 124.69L277.22 124.29L277.77 123.90L278.32 123.53L278.88 123.18L279.45 122.85L280.02 122.53L280.59 122.23L281.17 121.95L281.76 121.67L282.35 121.42L282.95 121.17L283.55 120.94L284.16 120.72L284.77 120.52L284.77 120.53L284.77 120.64L284.77 120.94L284.77 121.51L284.77 122.45L284.77 123.85L284.77 125.80L284.77 128.37L284.78 131.64L284.78 135.67L284.78 140.53L284.78 146.26L284.79 152.89L284.79 160.44L284.80 168.90L284.81 178.27L284.81 188.50L284.82 199.54L284.83 211.33L284.84 223.76L284.85 236.75L284.86 250.16L284.88 263.88L284.89 277.77L284.91 291.68L284.93 305.49L284.95 319.05L284.97 332.24L284.99 344.94L285.01 357.06L285.04 368.50L285.06 379.20L285.09 389.12L285.12 398.23L285.15 406.53L285.19 414.01L285.22 420.72L285.26 426.68L285.30 431.96L285.34 436.60L285.39 440.67L285.43 444.24L285.48 447.38L285.53 450.13L285.59 452.57L285.64 454.75L285.70 456.72L285.76 458.51L285.82 460.16L285.89 461.70L285.96 463.15L286.03 464.54L286.10 465.87L286.18 467.15L286.26 468.40L286.34 469.61L286.43 470.80L286.52 471.95L286.61 473.08L286.71 474.18L286.81 475.25L286.91 476.29L287.01 477.30L287.12 478.28L287.23 479.22L287.35 480.14L287.47 481.01L287.59 481.86L287.72 482.67L287.85 483.44L287.98 484.18L288.12 484.89L288.26 485.56L288.40 486.21L288.55 486.81L288.71 487.39L288.86 487.94L289.03 488.46L289.19 488.95L289.36 489.41L289.54 489.85L289.72 490.27L289.90 490.66L290.09 491.03L290.28 491.38L290.48 491.72L290.68 492.04L290.88 492.34L291.09 492.62L291.31 492.90L291.53 493.16L291.76 493.41L291.99 493.65L292.22 493.88L292.46 494.11L292.71 494.32L292.96 494.53L293.21 494.74L293.47 494.94L293.74 495.13L294.01 495.32L294.29 495.51L294.57 495.69L294.86 495.88L295.15 496.06L295.45 496.23L295.76 496.41L296.07 496.58L296.39 496.75L296.71 496.92L297.04 497.09L297.37 497.26L297.71 497.42L298.06 497.59L298.41 497.75L298.77 497.91L299.14 498.07L299.51 498.23L299.89 498.39L300.27 498.55L300.66 498.70L301.06 498.86L301.46 499.01L301.87 499.16L302.29 499.31L302.72 499.45L303.15 499.60L303.58 499.74L304.03 499.88L304.48 500.02L304.94 500.16L305.40 500.30L305.88 500.43L306.36 500.56L306.84 500.69L307.34 500.82L307.84 500.94L308.35 501.06L308.86 501.18L309.39 501.30L309.92 501.42L310.46 501.53L311.00 501.64L311.56 501.75L312.12 501.86L312.69 501.96L313.27 502.06L313.85 502.16L314.45 502.26L315.05 502.35L315.66 502.44L316.28 502.53L316.90 502.62L317.54 502.70L318.18 502.78L318.83 502.86L319.49 502.94L320.16 503.01L320.83 503.09L321.52 503.16L321.52 503.16L321.52 503.16L321.52 503.17L321.52 503.20L321.53 502.01L321.54 500.32L321.55 498.19L321.57 495.61L321.58 492.59L321.60 489.12L321.63 485.22L321.65 480.90L321.68 476.18L321.72 471.08L321.75 465.61L321.79 459.82L321.83 453.72L321.88 447.35L321.92 440.74L321.98 433.92L322.03 426.92L322.09 419.78L322.15 412.53L322.22 405.21L322.28 397.85L322.36 390.48L322.43 383.12L322.51 375.81L322.59 368.58L322.68 361.45L322.77 354.43L322.86 347.55L322.96 340.83L323.06 334.27L323.17 327.90L323.28 321.71L323.39 315.73L323.51 309.94L323.63 304.36L323.75 298.99L323.88 293.81L324.01 288.84L324.15 284.06L324.29 279.48L324.43 275.08L324.58 270.85L324.73 266.79L324.88 262.89L325.04 259.14L325.21 255.54L325.38 252.06L325.55 248.71L325.72 245.47L325.90 242.34L326.09 239.30L326.28 236.36L326.47 233.49L326.67 230.71L326.87 227.99L327.07 225.34L327.28 222.74L327.49 220.20L327.71 217.71L327.93 215.27L328.16 212.87L328.39 210.51L328.62 208.19L328.86 205.90L329.11 203.66L329.36 201.44L329.61 199.26L329.86 197.12L330.12 195.00L330.39 192.92L330.66 190.87L330.93 188.85L331.21 186.86L331.49 184.91L331.78 182.99L332.07 181.10L332.37 179.24L332.67 177.42L332.98 175.63L333.29 173.87L333.60 172.15L333.92 170.47L334.24 168.82L334.57 167.20L334.90 165.62L335.24 164.08L335.58 162.57L335.93 161.10L336.28 159.66L336.63 158.26L336.99 156.90L337.36 155.57L337.73 154.28L338.10 153.02L338.48 151.80L338.86 150.61L339.25 149.46L339.64 148.34L340.04 147.25L340.44 146.20L340.85 145.19L341.26 144.20L341.68 143.25L342.10 142.33L342.52 141.44L342.95 140.58L343.39 139.75L343.83 138.96L344.27 138.19L344.72 137.45L345.17 136.74L345.63 136.05L346.10 135.39L346.57 134.76L347.04 134.15L347.52 133.57L348.00 133.01L348.49 132.48L348.98 131.96L349.48 131.47L349.98 131.00L350.49 130.55L351.00 130.13L351.52 129.72L352.04 129.33L352.57 128.95L353.10 128.60L353.64 128.26L354.18 127.94L354.73 127.63L355.28 127.34L355.83 127.07L356.40 126.81L356.96 126.56L357.54 126.32L358.11 126.10L358.69 125.88L358.69 125.90L358.69 126.00L358.69 126.27L358.69 126.81L358.69 127.68L358.70 128.98L358.70 130.79L358.70 133.18L358.70 136.22L358.70 139.98L358.70 144.51L358.71 149.85L358.71 156.04L358.72 163.10L358.72 171.02L358.73 179.81L358.74 189.43L358.74 199.83L358.75 210.97L358.76 222.75L358.77 235.09L358.78 247.88L358.80 261.01L358.81 274.35L358.83 287.79L358.84 301.18L358.86 314.40L358.88 327.33L358.90 339.85L358.92 351.87L358.95 363.30L358.97 374.07L359.00 384.11L359.03 393.40L359.06 401.93L359.09 409.68L359.12 416.67L359.16 422.94L359.20 428.52L359.24 433.46L359.28 437.82L359.32 441.65L359.37 445.02L359.42 447.99L359.47 450.62L359.52 452.95L359.57 455.04L359.63 456.94L359.69 458.67L359.75 460.27L359.82 461.78L359.89 463.20L359.96 464.55L360.03 465.86L360.10 467.12L360.18 468.34L360.26 469.53L360.35 470.70L360.43 471.83L360.52 472.94L360.62 474.03L360.71 475.08L360.81 476.11L360.92 477.10L361.02 478.07L361.13 479.00L361.24 479.91L361.36 480.78L361.48 481.61L361.60 482.42L361.73 483.19L361.86 483.93L361.99 484.63L362.13 485.31L362.27 485.95L362.41 486.56L362.56 487.14L362.72 487.69L362.87 488.21L363.03 488.71L363.20 489.18L363.37 489.62L363.54 490.04L363.72 490.44L363.90 490.81L364.08 491.17L364.28 491.51L364.47 491.83L364.67 492.14L364.87 492.43L365.08 492.71L365.29 492.97L365.51 493.22L365.73 493.47L365.96 493.70L366.19 493.93L366.43 494.15L366.67 494.36L366.92 494.56L367.17 494.76L367.43 494.96L367.69 495.15L367.96 495.34L368.23 495.52L368.51 495.70L368.79 495.88L369.08 496.05L369.37 496.23L369.67 496.40L369.98 496.57L370.29 496.74L370.60 496.91L370.92 497.07L371.25 497.24L371.59 497.40L371.92 497.56L372.27 497.72L372.62 497.88L372.98 498.04L373.34 498.19L373.71 498.35L374.09 498.50L374.47 498.66L374.85 498.81L375.25 498.96L375.65 499.10L376.06 499.25L376.47 499.40L376.89 499.54L377.32 499.68L377.75 499.82L378.19 499.96L378.64 500.09L379.09 500.23L379.55 500.36L380.02 500.49L380.49 500.62L380.97 500.74L381.46 500.87L381.95 500.99L382.45 501.11L382.96 501.22L383.48 501.34L384.00 501.45L384.53 501.56L385.07 501.67L385.62 501.78L386.17 501.88L386.73 501.98L387.30 502.08L387.88 502.18L388.46 502.27L389.05 502.36L389.65 502.45L390.26 502.54L390.87 502.62L391.50 502.71L392.13 502.79L392.77 502.86L393.41 502.94L393.41 502.94L393.41 502.94L393.42 502.96L393.42 502.99L393.43 501.96L393.44 500.23L393.45 498.06L393.46 495.43L393.48 492.34L393.50 488.80L393.53 484.83L393.55 480.42L393.58 475.61L393.61 470.41L393.65 464.85L393.69 458.95L393.73 452.74L393.78 446.26L393.83 439.54L393.88 432.60L393.93 425.49L393.99 418.25L394.05 410.89L394.12 403.47L394.19 396.01L394.26 388.54L394.34 381.10L394.42 373.71L394.50 366.40L394.59 359.20L394.68 352.12L394.78 345.19L394.88 338.42L394.98 331.82L395.08 325.42L395.19 319.21L395.31 313.20L395.43 307.41L395.55 301.82L395.67 296.44L395.80 291.27L395.94 286.31L396.07 281.55L396.21 276.98L396.36 272.60L396.51 268.40L396.66 264.37L396.82 260.50L396.98 256.78L397.15 253.21L397.32 249.77L397.49 246.45L397.67 243.25L397.85 240.16L398.04 237.17L398.23 234.26L398.42 231.44L398.62 228.70L398.82 226.02L399.03 223.42L399.24 220.87L399.46 218.37L399.68 215.93L399.90 213.53L400.13 211.18L400.37 208.87L400.60 206.60L400.85 204.36L401.09 202.17L401.34 200.00L401.60 197.88L401.86 195.78L402.12 193.72L402.39 191.70L402.66 189.70L402.94 187.74L403.22 185.81L403.51 183.92L403.80 182.05L404.09 180.22L404.39 178.43L404.70 176.67L405.01 174.94L405.32 173.25L405.64 171.59L405.96 169.97L406.29 168.39L406.62 166.84L406.95 165.32L407.29 163.84L407.64 162.40L407.99 160.99L408.34 159.62L408.70 158.29L409.07 156.99L409.44 155.72L409.81 154.50L410.19 153.30L410.57 152.15L410.96 151.02L411.35 149.93L411.75 148.88L412.15 147.86L412.56 146.87L412.97 145.91L413.38 144.99L413.80 144.10L414.23 143.24L414.66 142.41L415.10 141.61L415.54 140.84L415.98 140.10L416.43 139.38L416.89 138.70L417.34 138.04L417.81 137.41L418.28 136.80L418.75 136.22L419.23 135.66L419.72 135.12L420.20 134.61L420.70 134.12L421.20 133.65L421.70 133.21L422.21 132.78L422.72 132.37L423.24 131.98L423.76 131.61L424.29 131.26L424.82 130.92L425.36 130.61L425.91 130.30L426.45 130.01L427.01 129.74L427.57 129.48L428.13 129.23L428.70 129.00L429.27 128.78L429.85 128.57L430.43 128.37L431.02 128.18L431.02 128.20L431.02 128.31L431.02 128.60L431.02 129.18L431.02 130.12L431.02 131.52L431.02 133.47L431.02 136.04L431.03 139.31L431.03 143.34L431.03 148.19L431.04 153.91L431.04 160.53L431.05 168.06L431.05 176.50L431.06 185.83L431.07 196.01L431.07 206.99L431.08 218.69L431.09 231.03L431.11 243.89L431.12 257.16L431.13 270.70L431.15 284.39L431.16 298.08L431.18 311.63L431.20 324.91L431.22 337.80L431.24 350.18L431.27 361.96L431.29 373.06L431.32 383.41L431.35 392.98L431.38 401.73L431.41 409.68L431.45 416.84L431.49 423.24L431.52 428.91L431.57 433.92L431.61 438.32L431.65 442.19L431.70 445.57L431.75 448.54L431.80 451.17L431.86 453.50L431.92 455.58L431.97 457.48L432.04 459.21L432.10 460.82L432.17 462.32L432.24 463.76L432.31 465.12L432.39 466.44L432.47 467.72L432.55 468.96L432.64 470.17L432.72 471.35L432.81 472.50L432.91 473.62L433.01 474.72L433.11 475.78L433.21 476.81L433.32 477.82L433.43 478.78L433.55 479.72L433.66 480.62L433.79 481.49L433.91 482.32L434.04 483.12L434.17 483.88L434.31 484.60L434.45 485.30L434.60 485.96L434.75 486.58L434.90 487.18L435.06 487.74L435.22 488.27L435.38 488.78L435.55 489.26L435.73 489.71L435.91 490.13L436.09 490.54L436.28 490.92L436.47 491.28L436.67 491.62L436.87 491.95L437.08 492.25L437.29 492.55L437.50 492.83L437.72 493.09L437.95 493.35L438.18 493.59L438.42 493.83L438.66 494.06L438.90 494.28L439.16 494.49L439.41 494.70L439.68 494.90L439.94 495.10L440.22 495.29L440.50 495.48L440.78 495.67L441.07 495.85L441.36 496.03L441.67 496.21L441.97 496.39L442.29 496.56L442.61 496.73L442.93 496.91L443.26 497.08L443.60 497.24L443.94 497.41L444.29 497.58L444.65 497.74L445.01 497.91L445.37 498.07L445.75 498.23L446.13 498.39L446.52 498.55L446.91 498.70L447.31 498.86L447.72 499.01L448.13 499.16L448.55 499.31L448.98 499.46L449.42 499.61L449.86 499.75L450.31 499.89L450.76 500.03L451.22 500.17L451.69 500.31L452.17 500.44L452.66 500.57L453.15 500.70L453.65 500.83L454.15 500.96L454.67 501.08L455.19 501.20L455.72 501.32L456.26 501.44L456.80 501.55L457.35 501.66L457.91 501.77L458.48 501.88L459.06 501.98L459.64 502.08L460.23 502.18L460.83 502.28L461.44 502.37L462.06 502.46L462.68 502.55L463.32 502.64L463.96 502.72L464.61 502.81L465.27 502.88L465.93 502.96L466.61 503.04L467.29 503.11L467.99 503.18L468.69 503.25L468.69 503.25L468.69 503.25L468.69 503.26L468.70 503.26L468.70 502.00L468.71 500.30L468.72 498.15L468.74 495.56L468.76 492.51L468.78 489.02L468.80 485.09L468.82 480.74L468.85 475.99L468.89 470.84L468.92 465.34L468.96 459.50L469.00 453.35L469.04 446.92L469.09 440.25L469.14 433.37L469.20 426.30L469.25 419.09L469.31 411.77L469.38 404.37L469.45 396.93L469.52 389.47L469.59 382.03L469.67 374.64L469.75 367.31L469.84 360.09L469.92 352.98L470.02 346.01L470.11 339.20L470.21 332.56L470.32 326.10L470.42 319.84L470.53 313.77L470.65 307.92L470.77 302.27L470.89 296.83L471.02 291.59L471.15 286.57L471.28 281.75L471.42 277.12L471.56 272.68L471.70 268.43L471.85 264.35L472.01 260.44L472.16 256.69L472.33 253.08L472.49 249.62L472.66 246.28L472.83 243.06L473.01 239.96L473.19 236.96L473.38 234.05L473.57 231.24L473.76 228.50L473.96 225.84L474.16 223.25L474.37 220.72L474.58 218.25L474.79 215.83L475.01 213.47L475.23 211.15L475.46 208.87L475.69 206.64L475.93 204.44L476.17 202.29L476.41 200.17L476.66 198.08L476.91 196.03L477.17 194.01L477.43 192.03L477.70 190.07L477.97 188.15L478.24 186.27L478.52 184.41L478.80 182.59L479.09 180.80L479.38 179.05L479.68 177.33L479.98 175.64L480.28 173.98L480.59 172.36L480.91 170.78L481.23 169.23L481.55 167.71L481.88 166.23L482.21 164.78L482.54 163.37L482.89 161.99L483.23 160.65L483.58 159.34L483.94 158.07L484.29 156.83L484.66 155.63L485.03 154.46L485.40 153.32L485.78 152.22L486.16 151.15L486.55 150.12L486.94 149.11L487.33 148.14L487.73 147.20L488.14 146.30L488.55 145.42L488.96 144.58L489.38 143.76L489.81 142.97L490.23 142.21L490.67 141.48L491.11 140.78L491.55 140.11L492.00 139.46L492.45 138.83L492.90 138.24L493.37 137.66L493.83 137.11L494.30 136.58L494.78 136.08L495.26 135.60L495.75 135.13L496.24 134.69L496.73 134.27L497.23 133.87L497.74 133.48L498.25 133.12L498.76 132.77L499.28 132.44L499.80 132.12L500.33 131.82L500.87 131.53L501.40 131.26L501.95 131.00L502.50 130.76L503.05 130.53L503.61 130.31L504.17 130.10L504.74 129.90L505.31 129.72L505.31 129.73L505.31 129.84L505.31 130.14L505.31 130.72L505.31 131.66L505.32 133.07L505.32 135.03L505.32 137.61L505.32 140.89L505.32 144.94L505.33 149.82L505.33 155.56L505.33 162.20L505.34 169.76L505.34 178.23L505.35 187.58L505.36 197.79L505.37 208.80L505.38 220.52L505.39 232.87L505.40 245.74L505.41 259.01L505.43 272.55L505.44 286.22L505.46 299.88L505.48 313.40L505.50 326.63L505.52 339.46L505.54 351.77L505.56 363.47L505.59 374.48L505.62 384.74L505.65 394.21L505.68 402.86L505.71 410.72L505.75 417.78L505.78 424.08L505.82 429.66L505.86 434.59L505.91 438.92L505.95 442.71L506.00 446.04L506.05 448.96L506.10 451.54L506.16 453.83L506.22 455.89L506.28 457.76L506.34 459.47L506.41 461.07L506.47 462.57L506.55 463.99L506.62 465.35L506.70 466.67L506.78 467.94L506.86 469.18L506.94 470.39L507.03 471.57L507.13 472.72L507.22 473.84L507.32 474.93L507.42 475.99L507.53 477.02L507.64 478.02L507.75 478.98L507.86 479.91L507.98 480.81L508.11 481.67L508.23 482.50L508.36 483.29L508.50 484.05L508.64 484.77L508.78 485.45L508.93 486.11L509.08 486.73L509.23 487.32L509.39 487.87L509.55 488.40L509.72 488.90L509.89 489.37L510.07 489.82L510.25 490.24L510.43 490.64L510.62 491.02L510.82 491.38L511.02 491.71L511.22 492.03L511.43 492.34L511.64 492.63L511.86 492.90L512.08 493.17L512.31 493.42L512.54 493.66L512.78 493.90L513.03 494.12L513.28 494.34L513.53 494.56L513.79 494.76L514.05 494.96L514.32 495.16L514.60 495.35L514.88 495.54L515.17 495.73L515.46 495.91L515.76 496.09L516.06 496.27L516.37 496.45L516.69 496.62L517.01 496.79L517.34 496.97L517.67 497.14L518.01 497.31L518.36 497.47L518.71 497.64L519.07 497.80L519.44 497.97L519.81 498.13L520.19 498.29L520.57 498.45L520.96 498.61L521.36 498.76L521.76 498.92L522.18 499.07L522.59 499.22L523.02 499.37L523.45 499.52L523.89 499.67L524.34 499.81L524.79 499.95L525.25 500.09L525.72 500.23L526.19 500.37L526.67 500.50L527.16 500.63L527.66 500.76L528.16 500.89L528.67 501.01L529.19 501.13L529.72 501.26L530.25 501.37L530.80 501.49L531.35 501.60L531.90 501.71L532.47 501.82L533.04 501.93L533.62 502.03L534.21 502.13L534.81 502.23L535.42 502.32L536.03 502.42L536.66 502.51L537.29 502.59L537.93 502.68L538.57 502.76L539.23 502.85L539.90 502.92L540.57 503.00L541.25 503.07L541.94 503.15L542.64 503.21L543.35 503.28L543.35 503.28L543.35 503.28L543.35 503.30L543.36 503.23L543.37 501.94L543.38 500.21L543.39 498.02L543.40 495.38L543.42 492.27L543.44 488.71L543.46 484.71L543.49 480.28L543.52 475.44L543.55 470.20L543.58 464.60L543.62 458.66L543.66 452.41L543.71 445.88L543.76 439.10L543.81 432.11L543.86 424.94L543.92 417.63L543.98 410.21L544.05 402.71L544.12 395.18L544.19 387.63L544.26 380.11L544.34 372.65L544.42 365.26L544.51 357.97L544.60 350.81L544.69 343.80L544.79 336.95L544.89 330.28L545.00 323.80L545.11 317.52L545.22 311.45L545.33 305.58L545.45 299.94L545.58 294.51L545.71 289.29L545.84 284.29L545.97 279.49L546.11 274.89L546.25 270.49L546.40 266.27L546.55 262.23L546.71 258.36L546.87 254.65L547.03 251.09L547.20 247.67L547.37 244.38L547.54 241.21L547.72 238.15L547.91 235.20L548.09 232.35L548.29 229.58L548.48 226.90L548.68 224.29L548.89 221.75L549.10 219.27L549.31 216.85L549.53 214.49L549.75 212.17L549.97 209.90L550.20 207.68L550.44 205.50L550.67 203.36L550.92 201.26L551.16 199.19L551.42 197.16L551.67 195.16L551.93 193.20L552.20 191.27L552.46 189.37L552.74 187.51L553.01 185.68L553.30 183.88L553.58 182.12L553.87 180.39L554.17 178.69L554.47 177.03L554.77 175.40L555.08 173.80L555.39 172.24L555.71 170.71L556.03 169.22L556.36 167.76L556.69 166.34L557.03 164.95L557.37 163.60L557.71 162.28L558.06 161.00L558.42 159.75L558.78 158.53L559.14 157.35L559.51 156.21L559.88 155.09L560.26 154.01L560.64 152.97L561.03 151.96L561.42 150.97L561.81 150.03L562.21 149.11L562.62 148.22L563.03 147.37L563.44 146.54L563.86 145.75L564.29 144.98L564.72 144.24L565.15 143.53L565.59 142.85L566.03 142.19L566.48 141.56L566.93 140.96L567.39 140.38L567.85 139.82L568.32 139.29L568.79 138.78L569.27 138.29L569.75 137.82L570.23 137.38L570.73 136.95L571.22 136.54L571.72 136.16L572.23 135.79L572.74 135.43L573.25 135.10L573.77 134.78L574.30 134.48L574.83 134.19L575.37 133.92L575.91 133.66L576.45 133.41L577.00 133.18L577.56 132.96L578.12 132.75L578.68 132.55L579.25 132.36L579.83 132.19L580.41 132.02L580.41 132.03L580.41 132.14L580.41 132.44L580.41 133.02L580.41 133.98L580.41 135.39L580.41 137.36L580.41 139.96L580.41 143.27L580.41 147.34L580.42 152.25L580.42 158.03L580.43 164.71L580.43 172.30L580.44 180.81L580.44 190.21L580.45 200.46L580.46 211.50L580.47 223.25L580.48 235.62L580.49 248.51L580.51 261.78L580.52 275.30L580.54 288.94L580.55 302.56L580.57 316.01L580.59 329.17L580.61 341.90L580.63 354.11L580.66 365.69L580.69 376.56L580.71 386.68L580.74 396.00L580.78 404.52L580.81 412.22L580.84 419.13L580.88 425.30L580.92 430.75L580.96 435.56L581.01 439.78L581.05 443.47L581.10 446.71L581.15 449.56L581.21 452.08L581.26 454.32L581.32 456.34L581.38 458.17L581.45 459.86L581.51 461.43L581.58 462.92L581.65 464.33L581.73 465.69L581.81 467.00L581.89 468.27L581.97 469.50L582.06 470.71L582.15 471.88L582.24 473.03L582.34 474.15L582.44 475.24L582.54 476.30L582.65 477.32L582.76 478.31L582.87 479.27L582.99 480.20L583.11 481.09L583.24 481.94L583.37 482.76L583.50 483.54L583.64 484.29L583.78 485.01L583.92 485.68L584.07 486.33L584.22 486.94L584.38 487.52L584.54 488.07L584.71 488.59L584.88 489.08L585.05 489.55L585.23 489.99L585.41 490.40L585.60 490.79L585.79 491.16L585.99 491.51L586.19 491.85L586.40 492.16L586.61 492.46L586.83 492.75L587.05 493.02L587.27 493.28L587.50 493.53L587.74 493.77L587.98 494.00L588.23 494.22L588.48 494.44L588.74 494.65L589.00 494.86L589.27 495.06L589.55 495.25L589.83 495.44L590.11 495.63L590.40 495.82L590.70 496.00L591.00 496.18L591.31 496.36L591.63 496.54L591.95 496.71L592.27 496.88L592.61 497.06L592.95 497.23L593.29 497.40L593.64 497.56L594.00 497.73L594.36 497.89L594.73 498.06L595.11 498.22L595.49 498.38L595.88 498.54L596.28 498.70L596.69 498.85L597.10 499.01L597.51 499.16L597.94 499.31L598.37 499.46L598.81 499.61L599.25 499.75L599.70 499.90L600.16 500.04L600.63 500.18L601.10 500.31L601.59 500.45L602.07 500.58L602.57 500.71L603.07 500.84L603.59 500.97L604.10 501.09L604.63 501.21L605.17 501.33L605.71 501.45L606.26 501.56L606.82 501.68L607.38 501.79L607.96 501.89L608.54 502.00L609.13 502.10L609.73 502.20L610.33 502.30L610.95 502.39L611.57 502.48L612.20 502.57L612.84 502.66L613.49 502.74L614.15 502.82L614.82 502.90L615.49 502.98L616.17 503.06L616.87 503.13L617.57 503.20L618.28 503.27L619.00 503.33L619.00 503.33L619.00 503.33L619.00 503.35L619.00 503.24L619.01 501.95L619.02 500.23L619.03 498.05L619.05 495.42L619.06 492.32L619.08 488.78L619.11 484.79L619.13 480.38L619.16 475.55L619.19 470.33L619.23 464.74L619.26 458.81L619.30 452.57L619.35 446.05L619.40 439.28L619.45 432.29L619.50 425.12L619.56 417.81L619.62 410.38L619.68 402.88L619.75 395.33L619.82 387.77L619.89 380.23L619.97 372.74L620.05 365.33L620.14 358.01L620.23 350.82L620.32 343.77L620.42 336.89L620.51 330.18L620.62 323.65L620.72 317.33L620.84 311.22L620.95 305.32L621.07 299.63L621.19 294.16L621.32 288.91L621.44 283.87L621.58 279.04L621.72 274.41L621.86 269.98L622.00 265.74L622.15 261.68L622.30 257.79L622.46 254.07L622.62 250.50L622.79 247.07L622.95 243.78L623.13 240.62L623.30 237.57L623.48 234.63L623.67 231.79L623.86 229.05L624.05 226.38L624.25 223.80L624.45 221.29L624.65 218.84L624.86 216.45L625.08 214.12L625.30 211.84L625.52 209.62L625.74 207.43L625.98 205.29L626.21 203.19L626.45 201.13L626.69 199.11L626.94 197.12L627.19 195.17L627.45 193.25L627.71 191.36L627.97 189.51L628.24 187.69L628.52 185.90L628.79 184.15L629.08 182.43L629.36 180.74L629.65 179.09L629.95 177.46L630.25 175.87L630.55 174.32L630.86 172.79L631.17 171.30L631.49 169.85L631.81 168.43L632.14 167.04L632.47 165.69L632.80 164.37L633.14 163.08L633.49 161.83L633.84 160.61L634.19 159.43L634.55 158.27L634.91 157.16L635.28 156.07L635.65 155.02L636.03 154.00L636.41 153.01L636.79 152.06L637.18 151.13L637.58 150.24L637.98 149.37L638.38 148.54L638.79 147.73L639.20 146.96L639.62 146.21L640.04 145.49L640.47 144.80L640.90 144.13L641.34 143.49L641.78 142.87L642.22 142.28L642.67 141.72L643.13 141.17L643.59 140.65L644.05 140.15L644.52 139.68L645.00 139.22L645.48 138.79L645.96 138.37L646.45 137.97L646.94 137.59L647.44 137.23L647.95 136.89L648.45 136.56L648.97 136.25L649.48 135.95L650.01 135.67L650.53 135.41L651.06 135.15L651.60 134.91L652.14 134.68L652.69 134.47L653.24 134.26L653.80 134.07L654.36 133.89L654.93 133.72L655.50 133.55L655.50 133.57L655.50 133.68L655.50 133.98L655.50 134.55L655.50 135.51L655.50 136.92L655.50 138.89L655.50 141.48L655.50 144.78L655.51 148.85L655.51 153.74L655.51 159.51L655.52 166.18L655.52 173.75L655.53 182.24L655.54 191.62L655.54 201.84L655.55 212.85L655.56 224.57L655.57 236.91L655.58 249.75L655.60 262.98L655.61 276.45L655.63 290.04L655.64 303.61L655.66 317.00L655.68 330.10L655.70 342.77L655.73 354.91L655.75 366.43L655.78 377.24L655.81 387.30L655.84 396.56L655.87 405.01L655.90 412.66L655.94 419.52L655.98 425.64L656.02 431.05L656.06 435.82L656.10 440.00L656.15 443.67L656.20 446.88L656.25 449.71L656.30 452.21L656.36 454.43L656.42 456.44L656.48 458.27L656.54 459.95L656.61 461.52L656.68 463.00L656.75 464.41L656.83 465.76L656.90 467.07L656.99 468.34L657.07 469.57L657.16 470.78L657.25 471.95L657.34 473.10L657.44 474.22L657.54 475.31L657.64 476.36L657.75 477.39L657.86 478.38L657.97 479.34L658.09 480.26L658.21 481.15L658.34 482.00L658.47 482.82L658.60 483.60L658.74 484.35L658.88 485.06L659.02 485.74L659.17 486.38L659.33 486.99L659.48 487.57L659.65 488.11L659.81 488.63L659.98 489.12L660.16 489.59L660.34 490.02L660.52 490.44L660.71 490.83L660.90 491.20L661.10 491.54L661.30 491.88L661.51 492.19L661.72 492.49L661.94 492.77L662.16 493.04L662.39 493.30L662.62 493.55L662.86 493.79L663.10 494.02L663.35 494.25L663.60 494.46L663.86 494.67L664.12 494.88L664.39 495.08L664.67 495.27L664.95 495.46L665.23 495.65L665.53 495.84L665.82 496.02L666.13 496.20L666.44 496.38L666.75 496.56L667.08 496.73L667.40 496.90L667.74 497.08L668.08 497.25L668.42 497.41L668.78 497.58L669.13 497.75L669.50 497.91L669.87 498.08L670.25 498.24L670.63 498.40L671.03 498.56L671.42 498.72L671.83 498.87L672.24 499.03L672.66 499.18L673.09 499.33L673.52 499.48L673.96 499.63L674.40 499.77L674.86 499.92L675.32 500.06L675.79 500.20L676.26 500.33L676.74 500.47L677.24 500.60L677.73 500.73L678.24 500.86L678.75 500.99L679.27 501.11L679.80 501.23L680.34 501.35L680.88 501.47L681.43 501.58L681.99 501.69L682.56 501.80L683.14 501.91L683.72 502.01L684.31 502.11L684.91 502.21L685.52 502.31L686.14 502.40L686.76 502.50L687.40 502.58L688.04 502.67L688.69 502.76L689.35 502.84L690.02 502.92L690.69 502.99L691.38 503.07L692.07 503.14L692.78 503.21L693.49 503.28L694.21 503.34"/>
<path stroke="#ff00ff" d="M172.50 504.70L172.50 504.47L172.50 503.64L172.51 502.13L172.51 499.91L172.52 496.99L172.54 493.40L172.55 489.21L172.57 484.47L172.59 479.29L172.61 473.75L172.63 467.96L172.66 462.02L172.69 456.01L172.73 450.02L172.77 444.13L172.81 438.38L172.85 432.83L172.90 427.49L172.95 422.39L173.00 417.53L173.06 412.89L173.12 408.48L173.18 404.25L173.25 400.21L173.32 396.31L173.39 392.55L173.47 388.89L173.55 385.33L173.64 381.85L173.72 378.44L173.81 375.08L173.91 371.78L174.01 368.53L174.11 365.32L174.22 362.16L174.33 359.06L174.44 356.00L174.56 352.99L174.68 350.04L174.80 347.15L174.93 344.31L175.06 341.53L175.20 338.82L175.34 336.17L175.49 333.58L175.63 331.06L175.78 328.60L175.94 326.21L176.10 323.87L176.26 321.61L176.43 319.40L176.60 317.25L176.78 315.17L176.96 313.14L177.14 311.16L177.33 309.25L177.52 307.38L177.72 305.57L177.92 303.81L178.12 302.10L178.33 300.44L178.54 298.82L178.76 297.25L178.98 295.72L179.20 294.23L179.43 292.79L179.67 291.38L179.90 290.02L180.14 288.69L180.39 287.41L180.64 286.16L180.90 284.94L181.15 283.76L181.42 282.62L181.68 281.51L181.96 280.44L182.23 279.39L182.51 278.39L182.80 277.41L183.08 276.46L183.38 275.55L183.68 274.67L183.98 273.81L184.28 272.99L184.60 272.20L184.91 271.43L185.23 270.70L185.55 269.99L185.88 269.31L186.22 268.65L186.55 268.02L186.90 267.42L187.24 266.84L187.59 266.29L187.95 265.76L188.31 265.25L188.67 264.77L189.04 264.30L189.42 263.86L189.79 263.44L190.18 263.04L190.56 262.66L190.96 262.30L191.35 261.95L191.75 261.63L192.16 261.32L192.57 261.02L192.98 260.75L193.40 260.48L193.83 260.23L194.26 260.00L194.69 259.78L195.13 259.57L195.57 259.37L196.02 259.19L196.47 259.01L196.93 258.85L197.39 258.70L197.86 258.55L198.33 258.42L198.80 258.29L199.28 258.17L199.77 258.06L200.26 257.96L200.75 257.86L201.25 257.77L201.76 257.69L202.27 257.61L202.78 257.54L203.30 257.47L203.82 257.41L204.35 257.35L204.89 257.29L205.42 257.24L205.97 257.20L206.52 257.15L207.07 257.11L207.63 257.08L208.19 257.04L208.76 257.01L208.76 257.02L208.76 257.09L208.76 257.29L208.76 257.66L208.76 258.28L208.76 259.20L208.76 260.47L208.76 262.15L208.76 264.29L208.76 266.93L208.77 270.11L208.77 273.85L208.78 278.18L208.78 283.10L208.79 288.62L208.79 294.71L208.80 301.36L208.81 308.53L208.82 316.17L208.83 324.21L208.84 332.59L208.85 341.23L208.87 350.04L208.88 358.94L208.90 367.82L208.92 376.61L208.94 385.22L208.96 393.55L208.98 401.55L209.01 409.15L209.03 416.29L209.06 422.95L209.09 429.08L209.12 434.69L209.15 439.76L209.19 444.32L209.23 448.38L209.27 451.98L209.31 455.14L209.35 457.91L209.40 460.33L209.44 462.44L209.50 464.28L209.55 465.90L209.60 467.33L209.66 468.60L209.72 469.75L209.78 470.79L209.85 471.75L209.92 472.65L209.99 473.50L210.06 474.30L210.14 475.07L210.22 475.82L210.30 476.54L210.39 477.24L210.48 477.92L210.57 478.58L210.67 479.22L210.76 479.85L210.87 480.46L210.97 481.05L211.08 481.63L211.19 482.19L211.31 482.73L211.43 483.25L211.55 483.76L211.68 484.25L211.81 484.72L211.95 485.18L212.08 485.63L212.23 486.06L212.37 486.47L212.52 486.88L212.68 487.27L212.84 487.65L213.00 488.02L213.17 488.38L213.34 488.73L213.52 489.07L213.70 489.41L213.88 489.74L214.07 490.06L214.27 490.37L214.47 490.68L214.67 490.99L214.88 491.29L215.09 491.59L215.31 491.88L215.54 492.17L215.76 492.46L216.00 492.74L216.24 493.02L216.48 493.30L216.73 493.58L216.98 493.85L217.24 494.13L217.51 494.40L217.78 494.66L218.06 494.93L218.34 495.19L218.63 495.45L218.92 495.71L219.22 495.96L219.52 496.22L219.83 496.46L220.15 496.71L220.47 496.95L220.80 497.19L221.14 497.43L221.48 497.67L221.82 497.90L222.18 498.12L222.54 498.34L222.90 498.56L223.27 498.78L223.65 498.99L224.04 499.20L224.43 499.40L224.83 499.60L225.23 499.79L225.65 499.98L226.06 500.17L226.49 500.35L226.92 500.52L227.36 500.70L227.81 500.86L228.26 501.03L228.72 501.18L229.19 501.34L229.67 501.49L230.15 501.63L230.64 501.77L231.14 501.91L231.64 502.04L232.15 502.17L232.67 502.29L233.20 502.41L233.74 502.52L234.28 502.63L234.83 502.74L235.39 502.84L235.96 502.94L236.53 503.04L237.11 503.13L237.70 503.21L238.30 503.29L238.91 503.37L239.52 503.45L240.15 503.52L240.78 503.59L241.42 503.66L242.07 503.72L242.73 503.78L243.39 503.84L244.07 503.89L244.75 503.94L245.44 503.99L246.14 504.04L246.85 504.08L246.85 504.08L246.85 504.08L246.86 503.64L246.86 502.14L246.86 499.92L246.87 496.98L246.88 493.34L246.89 489.04L246.90 484.14L246.91 478.71L246.93 472.83L246.95 466.59L246.97 460.09L246.99 453.43L247.01 446.70L247.04 439.98L247.07 433.37L247.10 426.92L247.13 420.71L247.17 414.77L247.20 409.15L247.24 403.86L247.28 398.91L247.33 394.30L247.37 390.03L247.42 386.07L247.48 382.41L247.53 379.03L247.58 375.88L247.64 372.96L247.70 370.22L247.77 367.64L247.83 365.19L247.90 362.86L247.97 360.63L248.05 358.47L248.12 356.38L248.20 354.33L248.28 352.33L248.37 350.37L248.46 348.44L248.54 346.54L248.64 344.66L248.73 342.81L248.83 340.98L248.93 339.18L249.03 337.40L249.14 335.65L249.25 333.92L249.36 332.21L249.47 330.54L249.59 328.89L249.71 327.28L249.83 325.69L249.95 324.13L250.08 322.60L250.21 321.11L250.34 319.64L250.48 318.21L250.62 316.81L250.76 315.43L250.91 314.09L251.05 312.78L251.20 311.50L251.36 310.25L251.51 309.03L251.67 307.84L251.83 306.67L252.00 305.53L252.17 304.42L252.34 303.34L252.51 302.28L252.69 301.24L252.87 300.23L253.05 299.25L253.24 298.28L253.43 297.34L253.62 296.42L253.81 295.52L254.01 294.64L254.21 293.78L254.41 292.94L254.62 292.11L254.83 291.31L255.04 290.52L255.26 289.75L255.48 289.00L255.70 288.26L255.93 287.54L256.15 286.84L256.39 286.15L256.62 285.47L256.86 284.81L257.10 284.17L257.34 283.54L257.59 282.92L257.84 282.32L258.09 281.73L258.35 281.15L258.61 280.59L258.87 280.04L259.14 279.50L259.41 278.97L259.68 278.46L259.96 277.96L260.23 277.47L260.52 277.00L260.80 276.53L261.09 276.08L261.38 275.64L261.68 275.22L261.97 274.80L262.28 274.39L262.58 274.00L262.89 273.62L263.20 273.24L263.51 272.88L263.83 272.53L264.15 272.19L264.48 271.86L264.80 271.54L265.13 271.23L265.47 270.93L265.80 270.64L266.15 270.36L266.49 270.08L266.84 269.82L267.19 269.57L267.54 269.32L267.90 269.08L268.26 268.85L268.62 268.63L268.99 268.42L269.36 268.22L269.73 268.02L270.11 267.83L270.49 267.65L270.88 267.47L271.26 267.30L271.65 267.14L272.05 266.98L272.05 266.99L272.05 267.06L272.05 267.24L272.05 267.60L272.05 268.19L272.05 269.06L272.05 270.27L272.05 271.87L272.06 273.90L272.06 276.41L272.06 279.43L272.07 282.99L272.07 287.10L272.07 291.78L272.08 297.03L272.09 302.82L272.09 309.15L272.10 315.96L272.11 323.22L272.12 330.87L272.14 338.84L272.15 347.05L272.16 355.44L272.18 363.90L272.19 372.35L272.21 380.72L272.23 388.91L272.25 396.85L272.28 404.46L272.30 411.70L272.33 418.51L272.35 424.85L272.38 430.71L272.41 436.06L272.45 440.91L272.48 445.27L272.52 449.16L272.56 452.60L272.60 455.64L272.64 458.30L272.69 460.63L272.74 462.67L272.79 464.46L272.84 466.04L272.90 467.43L272.95 468.68L273.01 469.80L273.08 470.83L273.14 471.78L273.21 472.67L273.28 473.51L273.36 474.31L273.43 475.08L273.51 475.82L273.60 476.54L273.68 477.24L273.77 477.92L273.86 478.58L273.96 479.22L274.06 479.85L274.16 480.46L274.27 481.05L274.37 481.63L274.49 482.19L274.60 482.73L274.72 483.25L274.85 483.76L274.97 484.25L275.10 484.72L275.24 485.18L275.38 485.63L275.52 486.06L275.67 486.47L275.82 486.88L275.97 487.27L276.13 487.65L276.30 488.02L276.46 488.38L276.64 488.73L276.81 489.07L276.99 489.41L277.18 489.74L277.37 490.06L277.56 490.37L277.76 490.68L277.97 490.99L278.17 491.29L278.39 491.59L278.61 491.88L278.83 492.17L279.06 492.46L279.29 492.74L279.53 493.02L279.77 493.30L280.02 493.58L280.28 493.85L280.54 494.13L280.80 494.40L281.07 494.66L281.35 494.93L281.63 495.19L281.92 495.45L282.21 495.71L282.51 495.96L282.82 496.22L283.13 496.46L283.44 496.71L283.77 496.95L284.09 497.19L284.43 497.43L284.77 497.67L285.12 497.90L285.47 498.12L285.83 498.34L286.20 498.56L286.57 498.78L286.95 498.99L287.33 499.20L287.72 499.40L288.12 499.60L288.53 499.79L288.94 499.98L289.36 500.17L289.78 500.35L290.22 500.52L290.66 500.70L291.10 500.86L291.56 501.03L292.02 501.18L292.48 501.34L292.96 501.49L293.44 501.63L293.93 501.77L294.43 501.91L294.93 502.04L295.45 502.17L295.97 502.29L296.49 502.41L297.03 502.52L297.57 502.63L298.12 502.74L298.68 502.84L299.25 502.94L299.82 503.04L300.41 503.13L301.00 503.21L301.60 503.29L302.20 503.37L302.82 503.45L303.44 503.52L304.07 503.59L304.71 503.66L305.36 503.72L306.02 503.78L306.69 503.84L307.36 503.89L308.04 503.94L308.74 503.99L309.44 504.04L310.15 504.08L310.15 504.08L310.15 504.08L310.15 503.11L310.15 500.85L310.16 497.53L310.17 493.17L310.18 487.81L310.19 481.55L310.21 474.51L310.22 466.82L310.24 458.64L310.27 450.14L310.29 441.47L310.32 432.80L310.35 424.27L310.38 416.01L310.42 408.13L310.46 400.71L310.50 393.81L310.54 387.47L310.59 381.69L310.64 376.47L310.69 371.78L310.75 367.60L310.81 363.88L310.87 360.56L310.94 357.59L311.00 354.94L311.07 352.53L311.15 350.33L311.23 348.31L311.31 346.41L311.39 344.62L311.48 342.91L311.57 341.27L311.66 339.66L311.76 338.09L311.86 336.55L311.96 335.03L312.07 333.52L312.18 332.03L312.29 330.55L312.41 329.09L312.53 327.63L312.65 326.19L312.78 324.77L312.91 323.36L313.04 321.97L313.18 320.59L313.32 319.23L313.47 317.90L313.61 316.58L313.76 315.28L313.92 314.01L314.08 312.75L314.24 311.52L314.40 310.31L314.57 309.12L314.75 307.96L314.92 306.82L315.10 305.70L315.29 304.61L315.47 303.54L315.66 302.49L315.86 301.47L316.06 300.47L316.26 299.49L316.46 298.54L316.67 297.61L316.89 296.70L317.10 295.81L317.32 294.95L317.55 294.11L317.78 293.29L318.01 292.49L318.24 291.72L318.48 290.97L318.72 290.23L318.97 289.52L319.22 288.83L319.48 288.16L319.74 287.51L320.00 286.87L320.26 286.26L320.53 285.67L320.81 285.10L321.09 284.54L321.37 284.01L321.65 283.49L321.94 282.99L322.24 282.50L322.53 282.04L322.84 281.59L323.14 281.16L323.45 280.74L323.76 280.34L324.08 279.96L324.40 279.59L324.73 279.23L325.06 278.89L325.39 278.56L325.73 278.25L326.07 277.95L326.41 277.67L326.76 277.39L327.12 277.13L327.47 276.88L327.84 276.65L328.20 276.42L328.57 276.20L328.95 276.00L329.32 275.80L329.71 275.62L330.09 275.44L330.48 275.28L330.88 275.12L331.28 274.97L331.68 274.83L332.09 274.69L332.50 274.57L332.91 274.45L333.33 274.33L333.75 274.23L334.18 274.13L334.61 274.03L335.05 273.94L335.49 273.86L335.94 273.78L336.38 273.71L336.84 273.64L337.29 273.57L337.76 273.51L338.22 273.45L338.69 273.40L339.17 273.35L339.64 273.31L340.13 273.26L340.61 273.22L341.11 273.18L341.60 273.15L342.10 273.12L342.10 273.13L342.10 273.19L342.10 273.36L342.10 273.69L342.10 274.24L342.10 275.05L342.11 276.17L342.11 277.66L342.11 279.55L342.11 281.89L342.11 284.70L342.12 288.01L342.12 291.85L342.13 296.22L342.13 301.12L342.14 306.54L342.15 312.47L342.15 318.87L342.16 325.70L342.17 332.91L342.18 340.45L342.20 348.23L342.21 356.20L342.23 364.27L342.24 372.36L342.26 380.39L342.28 388.29L342.30 395.97L342.32 403.38L342.34 410.45L342.37 417.14L342.39 423.40L342.42 429.21L342.45 434.56L342.48 439.43L342.52 443.83L342.55 447.78L342.59 451.30L342.63 454.42L342.67 457.17L342.72 459.59L342.76 461.71L342.81 463.57L342.86 465.21L342.92 466.67L342.97 467.97L343.03 469.13L343.09 470.20L343.15 471.17L343.22 472.08L343.29 472.94L343.36 473.75L343.43 474.53L343.51 475.28L343.59 476.00L343.67 476.71L343.76 477.39L343.84 478.06L343.94 478.71L344.03 479.34L344.13 479.95L344.23 480.55L344.33 481.13L344.44 481.70L344.55 482.25L344.67 482.78L344.79 483.30L344.91 483.79L345.03 484.28L345.16 484.74L345.30 485.20L345.43 485.64L345.57 486.06L345.72 486.47L345.87 486.87L346.02 487.26L346.18 487.63L346.34 488.00L346.50 488.35L346.67 488.70L346.85 489.04L347.02 489.37L347.21 489.69L347.39 490.01L347.58 490.32L347.78 490.63L347.98 490.93L348.19 491.23L348.39 491.52L348.61 491.81L348.83 492.10L349.05 492.39L349.28 492.67L349.52 492.95L349.76 493.22L350.00 493.49L350.25 493.77L350.50 494.03L350.76 494.30L351.03 494.57L351.30 494.83L351.57 495.09L351.86 495.35L352.14 495.60L352.44 495.85L352.73 496.10L353.04 496.35L353.35 496.60L353.66 496.84L353.98 497.08L354.31 497.31L354.64 497.54L354.98 497.77L355.33 498.00L355.68 498.22L356.04 498.44L356.40 498.65L356.77 498.86L357.14 499.07L357.53 499.27L357.92 499.47L358.31 499.66L358.71 499.85L359.12 500.04L359.54 500.22L359.96 500.40L360.39 500.57L360.82 500.74L361.26 500.90L361.71 501.06L362.17 501.22L362.63 501.37L363.10 501.52L363.58 501.66L364.06 501.80L364.56 501.93L365.06 502.06L365.56 502.18L366.08 502.30L366.60 502.42L367.12 502.53L367.66 502.64L368.20 502.75L368.76 502.85L369.32 502.94L369.88 503.04L370.46 503.13L371.04 503.21L371.63 503.29L372.23 503.37L372.84 503.45L373.45 503.52L374.07 503.59L374.70 503.65L375.34 503.71L375.99 503.77L376.65 503.83L377.31 503.88L377.98 503.93L378.66 503.98L378.66 503.98L378.67 503.98L378.67 502.99L378.67 500.57L378.68 497.01L378.69 492.35L378.70 486.65L378.71 480.01L378.73 472.57L378.75 464.50L378.77 455.95L378.79 447.13L378.82 438.21L378.85 429.35L378.88 420.72L378.92 412.43L378.96 404.61L379.00 397.31L379.05 390.59L379.09 384.47L379.14 378.95L379.20 374.00L379.26 369.60L379.32 365.69L379.38 362.22L379.45 359.13L379.52 356.36L379.59 353.87L379.67 351.60L379.75 349.50L379.84 347.54L379.92 345.69L380.02 343.91L380.11 342.20L380.21 340.54L380.31 338.90L380.41 337.30L380.52 335.71L380.64 334.14L380.75 332.58L380.87 331.04L380.99 329.51L381.12 328.00L381.25 326.51L381.39 325.03L381.52 323.57L381.66 322.13L381.81 320.71L381.96 319.31L382.11 317.93L382.27 316.58L382.43 315.25L382.59 313.94L382.76 312.66L382.93 311.41L383.11 310.18L383.29 308.98L383.47 307.80L383.66 306.65L383.85 305.53L384.05 304.43L384.25 303.36L384.45 302.32L384.66 301.30L384.87 300.31L385.08 299.35L385.30 298.41L385.53 297.50L385.75 296.61L385.99 295.75L386.22 294.91L386.46 294.10L386.70 293.31L386.95 292.55L387.20 291.81L387.46 291.09L387.72 290.39L387.98 289.72L388.25 289.07L388.52 288.45L388.80 287.84L389.08 287.26L389.37 286.69L389.66 286.15L389.95 285.63L390.25 285.12L390.55 284.64L390.86 284.17L391.17 283.73L391.48 283.30L391.80 282.89L392.12 282.49L392.45 282.12L392.78 281.76L393.12 281.41L393.46 281.08L393.80 280.77L394.15 280.47L394.51 280.18L394.86 279.91L395.23 279.65L395.59 279.41L395.96 279.17L396.34 278.95L396.72 278.74L397.10 278.54L397.49 278.35L397.88 278.18L398.28 278.01L398.68 277.85L399.09 277.70L399.50 277.56L399.92 277.42L400.33 277.30L400.76 277.18L401.19 277.07L401.62 276.97L402.06 276.87L402.50 276.78L402.95 276.69L403.40 276.61L403.85 276.54L404.31 276.47L404.78 276.40L405.25 276.34L405.72 276.29L406.20 276.24L406.68 276.19L407.17 276.14L407.66 276.10L408.16 276.06L408.66 276.02L409.17 275.99L409.68 275.96L410.19 275.93L410.71 275.90L411.24 275.88L411.77 275.86L412.30 275.84L412.84 275.82L413.38 275.80L413.38 275.81L413.38 275.87L413.38 276.04L413.38 276.36L413.39 276.89L413.39 277.69L413.39 278.79L413.39 280.24L413.39 282.09L413.39 284.37L413.40 287.12L413.40 290.36L413.40 294.12L413.41 298.39L413.41 303.18L413.42 308.49L413.43 314.30L413.44 320.57L413.44 327.26L413.45 334.33L413.47 341.72L413.48 349.36L413.49 357.18L413.51 365.11L413.52 373.06L413.54 380.96L413.56 388.74L413.58 396.31L413.60 403.62L413.62 410.60L413.65 417.22L413.67 423.41L413.70 429.17L413.73 434.47L413.76 439.31L413.80 443.69L413.83 447.63L413.87 451.14L413.91 454.25L413.95 457.00L413.99 459.42L414.04 461.55L414.09 463.42L414.14 465.07L414.19 466.53L414.25 467.83L414.30 469.00L414.36 470.07L414.43 471.05L414.49 471.97L414.56 472.83L414.63 473.64L414.70 474.42L414.78 475.17L414.86 475.90L414.94 476.60L415.02 477.28L415.11 477.95L415.20 478.60L415.30 479.23L415.39 479.85L415.49 480.45L415.60 481.03L415.70 481.60L415.81 482.15L415.93 482.68L416.05 483.20L416.17 483.70L416.29 484.18L416.42 484.65L416.55 485.11L416.69 485.55L416.83 485.97L416.97 486.39L417.12 486.79L417.27 487.18L417.42 487.55L417.58 487.92L417.75 488.28L417.92 488.62L418.09 488.96L418.26 489.29L418.45 489.62L418.63 489.94L418.82 490.25L419.01 490.56L419.21 490.86L419.42 491.16L419.62 491.45L419.84 491.74L420.05 492.03L420.28 492.31L420.50 492.59L420.74 492.87L420.97 493.15L421.22 493.42L421.46 493.69L421.71 493.96L421.97 494.23L422.24 494.49L422.50 494.75L422.78 495.01L423.06 495.27L423.34 495.53L423.63 495.78L423.93 496.03L424.23 496.28L424.53 496.52L424.85 496.76L425.17 497.00L425.49 497.24L425.82 497.47L426.16 497.70L426.50 497.92L426.85 498.15L427.20 498.37L427.56 498.58L427.93 498.79L428.30 499.00L428.68 499.20L429.06 499.40L429.46 499.60L429.86 499.79L430.26 499.97L430.67 500.16L431.09 500.34L431.52 500.51L431.95 500.68L432.39 500.84L432.83 501.01L433.28 501.16L433.74 501.31L434.21 501.46L434.68 501.61L435.16 501.74L435.65 501.88L436.14 502.01L436.65 502.14L437.16 502.26L437.67 502.38L438.20 502.49L438.73 502.60L439.27 502.70L439.81 502.81L440.37 502.90L440.93 503.00L441.50 503.09L442.08 503.18L442.66 503.26L443.26 503.34L443.86 503.41L444.47 503.49L445.09 503.56L445.71 503.62L446.35 503.69L446.99 503.75L447.64 503.80L448.30 503.86L448.96 503.91L449.64 503.96L449.64 503.96L449.64 503.96L449.64 503.34L449.65 501.40L449.65 498.56L449.66 494.84L449.67 490.26L449.69 484.93L449.70 478.93L449.72 472.38L449.74 465.43L449.76 458.22L449.79 450.87L449.82 443.53L449.85 436.31L449.89 429.32L449.93 422.63L449.97 416.32L450.01 410.43L450.06 404.97L450.11 399.95L450.16 395.37L450.22 391.18L450.28 387.37L450.34 383.90L450.40 380.71L450.47 377.77L450.54 375.04L450.62 372.48L450.70 370.06L450.78 367.74L450.87 365.51L450.95 363.34L451.05 361.22L451.14 359.13L451.24 357.07L451.34 355.03L451.45 353.01L451.56 351.01L451.67 349.02L451.79 347.05L451.91 345.10L452.03 343.16L452.16 341.25L452.29 339.36L452.42 337.49L452.56 335.64L452.70 333.83L452.85 332.04L453.00 330.28L453.15 328.55L453.30 326.86L453.46 325.20L453.63 323.57L453.80 321.98L453.97 320.42L454.14 318.90L454.32 317.41L454.50 315.97L454.69 314.55L454.88 313.18L455.07 311.84L455.27 310.54L455.47 309.27L455.68 308.04L455.89 306.85L456.10 305.69L456.32 304.57L456.54 303.48L456.77 302.42L457.00 301.40L457.23 300.42L457.47 299.46L457.71 298.54L457.95 297.65L458.20 296.80L458.45 295.97L458.71 295.17L458.97 294.41L459.24 293.67L459.51 292.96L459.78 292.28L460.06 291.63L460.34 291.00L460.62 290.40L460.91 289.83L461.21 289.27L461.51 288.75L461.81 288.24L462.12 287.76L462.43 287.31L462.74 286.87L463.06 286.45L463.38 286.06L463.71 285.68L464.04 285.32L464.38 284.98L464.72 284.66L465.06 284.35L465.41 284.07L465.76 283.79L466.12 283.53L466.48 283.29L466.84 283.06L467.21 282.84L467.59 282.64L467.97 282.44L468.35 282.26L468.74 282.09L469.13 281.93L469.52 281.78L469.92 281.64L470.33 281.51L470.73 281.39L471.15 281.28L471.56 281.17L471.99 281.07L472.41 280.98L472.84 280.89L473.28 280.81L473.72 280.74L474.16 280.67L474.61 280.60L475.06 280.54L475.52 280.49L475.98 280.44L476.44 280.39L476.91 280.35L477.39 280.31L477.87 280.27L478.35 280.24L478.84 280.20L479.33 280.18L479.83 280.15L480.33 280.13L480.84 280.10L481.35 280.08L481.86 280.06L482.38 280.05L482.91 280.03L483.44 280.02L483.44 280.03L483.44 280.09L483.44 280.26L483.44 280.58L483.44 281.12L483.44 281.92L483.44 283.03L483.44 284.50L483.44 286.37L483.45 288.67L483.45 291.44L483.45 294.71L483.46 298.49L483.46 302.79L483.47 307.61L483.47 312.94L483.48 318.76L483.49 325.04L483.50 331.73L483.51 338.79L483.52 346.15L483.53 353.75L483.55 361.51L483.56 369.36L483.58 377.22L483.60 385.00L483.62 392.63L483.64 400.05L483.66 407.18L483.68 413.97L483.71 420.37L483.74 426.35L483.77 431.89L483.80 436.97L483.83 441.58L483.86 445.74L483.90 449.47L483.94 452.79L483.98 455.72L484.02 458.30L484.07 460.57L484.12 462.56L484.16 464.32L484.22 465.87L484.27 467.25L484.33 468.48L484.39 469.60L484.45 470.63L484.51 471.57L484.58 472.46L484.65 473.30L484.72 474.10L484.80 474.87L484.88 475.61L484.96 476.33L485.04 477.03L485.13 477.71L485.22 478.37L485.32 479.02L485.41 479.65L485.51 480.26L485.62 480.86L485.73 481.43L485.84 481.99L485.95 482.54L486.07 483.07L486.19 483.58L486.31 484.07L486.44 484.55L486.58 485.01L486.71 485.46L486.85 485.89L487.00 486.31L487.15 486.72L487.30 487.11L487.45 487.50L487.61 487.87L487.78 488.23L487.95 488.58L488.12 488.93L488.30 489.26L488.48 489.59L488.67 489.91L488.86 490.23L489.06 490.54L489.26 490.85L489.46 491.15L489.67 491.45L489.89 491.74L490.11 492.03L490.33 492.32L490.56 492.60L490.80 492.88L491.04 493.16L491.28 493.44L491.53 493.71L491.79 493.98L492.05 494.25L492.32 494.52L492.59 494.79L492.87 495.05L493.15 495.31L493.44 495.57L493.73 495.82L494.03 496.07L494.34 496.32L494.65 496.57L494.97 496.81L495.29 497.05L495.62 497.29L495.95 497.53L496.29 497.76L496.64 497.98L497.00 498.21L497.36 498.43L497.72 498.64L498.09 498.86L498.47 499.06L498.86 499.27L499.25 499.47L499.65 499.66L500.05 499.86L500.47 500.04L500.89 500.23L501.31 500.40L501.74 500.58L502.18 500.75L502.63 500.91L503.08 501.07L503.54 501.23L504.01 501.38L504.49 501.53L504.97 501.67L505.46 501.81L505.95 501.95L506.46 502.08L506.97 502.20L507.49 502.32L508.01 502.44L508.55 502.55L509.09 502.66L509.64 502.76L510.20 502.87L510.76 502.96L511.34 503.05L511.92 503.14L512.51 503.23L513.10 503.31L513.71 503.39L514.32 503.46L514.95 503.54L515.58 503.60L516.21 503.67L516.86 503.73L517.52 503.79L518.18 503.85L518.85 503.90L519.53 503.95L520.22 504.00L520.92 504.04L520.92 504.04L520.92 504.04L520.92 503.23L520.93 501.15L520.93 498.09L520.94 494.06L520.95 489.10L520.96 483.30L520.98 476.74L520.99 469.56L521.01 461.89L521.03 453.88L521.06 445.68L521.08 437.43L521.11 429.27L521.14 421.33L521.18 413.69L521.21 406.46L521.25 399.69L521.29 393.41L521.34 387.67L521.39 382.44L521.44 377.73L521.49 373.50L521.54 369.72L521.60 366.34L521.66 363.33L521.73 360.62L521.79 358.19L521.86 355.97L521.94 353.94L522.01 352.05L522.09 350.27L522.17 348.59L522.26 346.97L522.35 345.40L522.44 343.87L522.53 342.37L522.63 340.88L522.73 339.41L522.83 337.96L522.94 336.51L523.05 335.07L523.16 333.64L523.28 332.22L523.40 330.81L523.52 329.41L523.65 328.03L523.78 326.66L523.91 325.30L524.05 323.96L524.19 322.64L524.33 321.33L524.47 320.05L524.62 318.79L524.78 317.55L524.93 316.33L525.09 315.13L525.25 313.96L525.42 312.81L525.59 311.69L525.76 310.60L525.94 309.53L526.12 308.48L526.30 307.46L526.49 306.47L526.68 305.50L526.87 304.56L527.07 303.65L527.27 302.76L527.47 301.90L527.68 301.06L527.89 300.25L528.11 299.46L528.33 298.70L528.55 297.96L528.77 297.25L529.00 296.56L529.24 295.89L529.47 295.25L529.71 294.62L529.96 294.02L530.20 293.44L530.45 292.88L530.71 292.35L530.97 291.83L531.23 291.33L531.49 290.85L531.76 290.39L532.04 289.94L532.31 289.52L532.59 289.11L532.88 288.71L533.16 288.34L533.46 287.97L533.75 287.63L534.05 287.30L534.35 286.98L534.66 286.67L534.97 286.38L535.28 286.11L535.60 285.84L535.92 285.59L536.25 285.34L536.58 285.11L536.91 284.89L537.25 284.68L537.59 284.49L537.93 284.30L538.28 284.12L538.63 283.94L538.99 283.78L539.35 283.63L539.72 283.48L540.08 283.34L540.45 283.21L540.83 283.09L541.21 282.97L541.59 282.86L541.98 282.75L542.37 282.65L542.77 282.56L543.17 282.47L543.57 282.39L543.98 282.31L544.39 282.24L544.80 282.17L545.22 282.10L545.64 282.04L546.07 281.98L546.50 281.93L546.94 281.88L547.38 281.83L547.82 281.79L548.27 281.75L548.72 281.71L549.17 281.67L549.63 281.64L550.09 281.61L550.56 281.58L551.03 281.55L551.03 281.56L551.03 281.62L551.03 281.79L551.03 282.12L551.03 282.66L551.03 283.47L551.04 284.59L551.04 286.07L551.04 287.95L551.04 290.26L551.04 293.06L551.05 296.34L551.05 300.14L551.06 304.47L551.06 309.32L551.07 314.67L551.08 320.52L551.09 326.82L551.10 333.53L551.11 340.60L551.12 347.97L551.13 355.57L551.15 363.32L551.16 371.15L551.18 378.98L551.20 386.72L551.22 394.31L551.24 401.66L551.26 408.72L551.28 415.43L551.31 421.75L551.34 427.64L551.37 433.08L551.40 438.06L551.43 442.58L551.47 446.65L551.50 450.29L551.54 453.52L551.58 456.37L551.63 458.88L551.67 461.08L551.72 463.02L551.77 464.73L551.82 466.23L551.88 467.58L551.94 468.78L552.00 469.88L552.06 470.88L552.13 471.82L552.19 472.70L552.27 473.53L552.34 474.32L552.42 475.09L552.50 475.83L552.58 476.54L552.67 477.24L552.75 477.92L552.85 478.58L552.94 479.22L553.04 479.85L553.14 480.46L553.25 481.05L553.36 481.63L553.47 482.19L553.59 482.73L553.71 483.25L553.83 483.76L553.96 484.25L554.09 484.72L554.22 485.18L554.36 485.63L554.50 486.06L554.65 486.47L554.80 486.88L554.96 487.27L555.12 487.65L555.28 488.02L555.45 488.38L555.62 488.73L555.79 489.07L555.98 489.41L556.16 489.74L556.35 490.06L556.55 490.37L556.74 490.68L556.95 490.99L557.16 491.29L557.37 491.59L557.59 491.88L557.81 492.17L558.04 492.46L558.27 492.74L558.51 493.02L558.76 493.30L559.01 493.58L559.26 493.85L559.52 494.13L559.79 494.40L560.06 494.66L560.33 494.93L560.62 495.19L560.90 495.45L561.20 495.71L561.49 495.96L561.80 496.22L562.11 496.46L562.43 496.71L562.75 496.95L563.08 497.19L563.41 497.43L563.75 497.67L564.10 497.90L564.45 498.12L564.81 498.34L565.18 498.56L565.55 498.78L565.93 498.99L566.31 499.20L566.71 499.40L567.11 499.60L567.51 499.79L567.92 499.98L568.34 500.17L568.77 500.35L569.20 500.52L569.64 500.70L570.09 500.86L570.54 501.03L571.00 501.18L571.47 501.34L571.94 501.49L572.43 501.63L572.92 501.77L573.41 501.91L573.92 502.04L574.43 502.17L574.95 502.29L575.48 502.41L576.01 502.52L576.56 502.63L577.11 502.74L577.66 502.84L578.23 502.94L578.81 503.04L579.39 503.13L579.98 503.21L580.58 503.29L581.19 503.37L581.80 503.45L582.42 503.52L583.06 503.59L583.70 503.66L584.35 503.72L585.00 503.78L585.67 503.84L586.34 503.89L587.03 503.94L587.72 503.99L588.42 504.04L589.13 504.08L589.13 504.08L589.13 504.08L589.13 502.99L589.14 500.57L589.14 497.01L589.15 492.33L589.16 486.59L589.18 479.90L589.19 472.37L589.21 464.16L589.23 455.44L589.25 446.39L589.28 437.19L589.30 428.01L589.33 419.01L589.37 410.32L589.40 402.07L589.44 394.33L589.48 387.16L589.53 380.62L589.58 374.69L589.63 369.39L589.68 364.67L589.74 360.50L589.80 356.83L589.86 353.59L589.93 350.75L589.99 348.23L590.07 345.98L590.14 343.96L590.22 342.12L590.30 340.42L590.39 338.84L590.47 337.33L590.56 335.89L590.66 334.50L590.76 333.14L590.86 331.80L590.96 330.49L591.07 329.18L591.18 327.90L591.30 326.62L591.41 325.36L591.53 324.11L591.66 322.86L591.79 321.64L591.92 320.42L592.05 319.23L592.19 318.05L592.33 316.88L592.48 315.74L592.63 314.61L592.78 313.51L592.94 312.43L593.10 311.37L593.26 310.33L593.43 309.31L593.60 308.32L593.77 307.35L593.95 306.41L594.13 305.49L594.32 304.60L594.51 303.73L594.70 302.88L594.90 302.06L595.10 301.26L595.30 300.49L595.51 299.74L595.72 299.02L595.93 298.31L596.15 297.63L596.37 296.98L596.60 296.34L596.83 295.73L597.07 295.14L597.30 294.57L597.54 294.01L597.79 293.48L598.04 292.97L598.29 292.48L598.55 292.00L598.81 291.54L599.08 291.10L599.34 290.68L599.62 290.27L599.89 289.88L600.17 289.51L600.46 289.15L600.75 288.80L601.04 288.47L601.34 288.15L601.64 287.84L601.94 287.55L602.25 287.27L602.56 287.00L602.88 286.75L603.20 286.50L603.52 286.26L603.85 286.04L604.18 285.83L604.52 285.62L604.86 285.43L605.20 285.24L605.55 285.06L605.91 284.89L606.26 284.73L606.62 284.58L606.99 284.43L607.36 284.30L607.73 284.16L608.11 284.04L608.49 283.92L608.88 283.81L609.27 283.70L609.66 283.60L610.06 283.51L610.46 283.42L610.87 283.33L611.28 283.25L611.69 283.18L612.11 283.10L612.54 283.04L612.96 282.97L613.40 282.91L613.83 282.86L614.27 282.80L614.72 282.75L615.17 282.71L615.62 282.66L616.08 282.62L616.54 282.59L617.00 282.55L617.48 282.52L617.95 282.49L618.43 282.46L618.91 282.43L619.40 282.40L619.89 282.38L620.39 282.36L620.89 282.34L621.39 282.32L621.39 282.33L621.39 282.39L621.39 282.56L621.39 282.88L621.39 283.42L621.39 284.21L621.40 285.32L621.40 286.78L621.40 288.63L621.40 290.93L621.40 293.68L621.41 296.93L621.41 300.69L621.42 304.96L621.42 309.76L621.43 315.06L621.44 320.84L621.45 327.07L621.46 333.72L621.47 340.72L621.48 348.03L621.49 355.56L621.50 363.26L621.52 371.03L621.54 378.80L621.55 386.50L621.57 394.05L621.59 401.37L621.62 408.41L621.64 415.10L621.67 421.41L621.69 427.30L621.72 432.74L621.75 437.73L621.79 442.27L621.82 446.35L621.86 450.01L621.90 453.25L621.94 456.13L621.98 458.65L622.03 460.88L622.08 462.83L622.13 464.55L622.18 466.07L622.23 467.43L622.29 468.65L622.35 469.75L622.41 470.76L622.48 471.70L622.55 472.58L622.62 473.42L622.69 474.21L622.77 474.98L622.85 475.72L622.93 476.44L623.01 477.14L623.10 477.82L623.19 478.48L623.29 479.12L623.39 479.75L623.49 480.36L623.59 480.95L623.70 481.53L623.81 482.09L623.93 482.63L624.04 483.16L624.17 483.67L624.29 484.16L624.42 484.64L624.56 485.10L624.69 485.54L624.84 485.98L624.98 486.39L625.13 486.80L625.28 487.19L625.44 487.57L625.60 487.94L625.77 488.31L625.94 488.66L626.12 489.00L626.30 489.34L626.48 489.66L626.67 489.99L626.86 490.30L627.06 490.61L627.26 490.92L627.47 491.22L627.68 491.52L627.90 491.81L628.12 492.10L628.35 492.39L628.58 492.67L628.81 492.95L629.06 493.23L629.30 493.51L629.56 493.78L629.81 494.06L630.08 494.32L630.34 494.59L630.62 494.86L630.90 495.12L631.18 495.38L631.47 495.64L631.77 495.89L632.07 496.14L632.38 496.39L632.70 496.64L633.01 496.88L633.34 497.12L633.67 497.36L634.01 497.60L634.35 497.83L634.71 498.05L635.06 498.28L635.42 498.50L635.79 498.71L636.17 498.92L636.55 499.13L636.94 499.33L637.34 499.53L637.74 499.73L638.15 499.92L638.56 500.11L638.98 500.29L639.41 500.46L639.85 500.64L640.29 500.81L640.74 500.97L641.20 501.13L641.66 501.29L642.13 501.44L642.61 501.58L643.10 501.72L643.59 501.86L644.09 501.99L644.60 502.12L645.12 502.25L645.64 502.37L646.17 502.48L646.71 502.59L647.26 502.70L647.81 502.80L648.37 502.90L648.94 503.00L649.52 503.09L650.11 503.18L650.70 503.26L651.30 503.34L651.91 503.42L652.53 503.49L653.16 503.56L653.79 503.63L654.44 503.69L655.09 503.76L655.75 503.81L656.42 503.87L657.10 503.92L657.78 503.97L658.48 504.02L659.18 504.06"/>
<path stroke="#0000ff" d="M172.50 504.70L172.50 504.42L172.50 503.43L172.51 501.63L172.51 498.99L172.52 495.50L172.53 491.22L172.54 486.19L172.56 480.52L172.57 474.30L172.59 467.65L172.61 460.71L172.63 453.59L172.66 446.43L172.69 439.33L172.72 432.41L172.75 425.75L172.79 419.43L172.83 413.50L172.87 407.99L172.91 402.92L172.96 398.30L173.01 394.10L173.06 390.32L173.12 386.92L173.18 383.86L173.24 381.10L173.30 378.59L173.37 376.31L173.44 374.21L173.51 372.25L173.59 370.41L173.67 368.65L173.75 366.96L173.83 365.31L173.92 363.69L174.01 362.09L174.11 360.50L174.20 358.92L174.30 357.33L174.41 355.73L174.51 354.14L174.62 352.53L174.73 350.92L174.85 349.30L174.97 347.68L175.09 346.06L175.22 344.44L175.35 342.81L175.48 341.19L175.61 339.57L175.75 337.96L175.89 336.36L176.04 334.76L176.19 333.18L176.34 331.61L176.49 330.05L176.65 328.51L176.82 326.99L176.98 325.48L177.15 323.99L177.32 322.53L177.50 321.09L177.68 319.67L177.86 318.27L178.04 316.90L178.23 315.56L178.43 314.24L178.62 312.95L178.82 311.69L179.03 310.46L179.23 309.25L179.44 308.08L179.66 306.94L179.88 305.82L180.10 304.74L180.32 303.69L180.55 302.67L180.78 301.68L181.02 300.72L181.26 299.79L181.50 298.89L181.74 298.02L181.99 297.18L182.25 296.38L182.50 295.60L182.76 294.85L183.03 294.13L183.30 293.43L183.57 292.77L183.84 292.13L184.12 291.52L184.41 290.93L184.69 290.37L184.98 289.83L185.28 289.32L185.58 288.83L185.88 288.37L186.18 287.92L186.49 287.50L186.80 287.10L187.12 286.72L187.44 286.35L187.77 286.01L188.09 285.68L188.42 285.38L188.76 285.08L189.10 284.81L189.44 284.55L189.79 284.30L190.14 284.07L190.50 283.85L190.85 283.65L191.22 283.46L191.58 283.27L191.95 283.10L192.33 282.94L192.71 282.80L193.09 282.66L193.47 282.53L193.86 282.40L194.26 282.29L194.65 282.18L195.06 282.08L195.46 281.99L195.87 281.91L196.28 281.83L196.70 281.75L197.12 281.68L197.55 281.62L197.98 281.56L198.41 281.50L198.85 281.45L199.29 281.41L199.73 281.36L200.18 281.32L200.63 281.29L201.09 281.25L201.55 281.22L202.02 281.19L202.49 281.17L202.49 281.18L202.49 281.24L202.49 281.41L202.49 281.73L202.49 282.27L202.49 283.07L202.49 284.17L202.49 285.64L202.49 287.50L202.50 289.79L202.50 292.55L202.50 295.81L202.51 299.57L202.51 303.86L202.52 308.66L202.53 313.98L202.53 319.77L202.54 326.03L202.55 332.69L202.56 339.72L202.57 347.05L202.59 354.62L202.60 362.35L202.61 370.16L202.63 377.97L202.65 385.71L202.67 393.30L202.69 400.67L202.71 407.76L202.74 414.50L202.76 420.86L202.79 426.80L202.82 432.29L202.85 437.33L202.88 441.91L202.92 446.04L202.95 449.74L202.99 453.02L203.03 455.93L203.08 458.49L203.12 460.74L203.17 462.72L203.22 464.46L203.27 466.00L203.32 467.38L203.38 468.61L203.44 469.72L203.50 470.74L203.57 471.69L203.64 472.58L203.71 473.42L203.78 474.23L203.85 475.00L203.93 475.74L204.02 476.47L204.10 477.17L204.19 477.85L204.28 478.52L204.37 479.17L204.47 479.80L204.57 480.42L204.68 481.02L204.78 481.60L204.89 482.16L205.01 482.71L205.13 483.24L205.25 483.76L205.37 484.26L205.50 484.74L205.64 485.21L205.77 485.66L205.91 486.09L206.06 486.52L206.21 486.93L206.36 487.33L206.52 487.72L206.68 488.09L206.84 488.46L207.01 488.81L207.19 489.16L207.37 489.50L207.55 489.83L207.74 490.16L207.93 490.48L208.13 490.80L208.33 491.10L208.53 491.41L208.74 491.71L208.96 492.01L209.18 492.30L209.41 492.59L209.64 492.88L209.87 493.16L210.11 493.44L210.36 493.72L210.61 493.99L210.87 494.27L211.13 494.54L211.40 494.81L211.67 495.07L211.95 495.34L212.23 495.60L212.52 495.85L212.82 496.11L213.12 496.36L213.42 496.61L213.74 496.86L214.05 497.10L214.38 497.34L214.71 497.58L215.04 497.81L215.39 498.04L215.74 498.26L216.09 498.48L216.45 498.70L216.82 498.92L217.19 499.13L217.57 499.33L217.96 499.53L218.35 499.73L218.75 499.92L219.16 500.11L219.57 500.29L219.99 500.47L220.42 500.65L220.85 500.82L221.29 500.98L221.74 501.14L222.20 501.30L222.66 501.45L223.13 501.60L223.60 501.74L224.09 501.88L224.58 502.01L225.08 502.14L225.58 502.26L226.10 502.38L226.62 502.50L227.15 502.61L227.68 502.72L228.23 502.82L228.78 502.92L229.34 503.02L229.90 503.11L230.48 503.20L231.06 503.28L231.65 503.36L232.25 503.44L232.86 503.51L233.48 503.58L234.10 503.65L234.73 503.71L235.37 503.77L236.02 503.83L236.68 503.88L237.34 503.94L238.02 503.99L238.70 504.03L239.39 504.08L240.09 504.12L240.09 504.12L240.10 504.12L240.10 503.45L240.10 501.67L240.11 499.06L240.12 495.62L240.13 491.38L240.14 486.41L240.15 480.79L240.17 474.62L240.19 468.01L240.21 461.08L240.24 453.96L240.27 446.75L240.30 439.57L240.33 432.51L240.37 425.65L240.40 419.06L240.45 412.79L240.49 406.88L240.54 401.32L240.59 396.14L240.64 391.31L240.70 386.83L240.75 382.67L240.82 378.79L240.88 375.18L240.95 371.80L241.02 368.62L241.10 365.62L241.17 362.77L241.25 360.05L241.34 357.45L241.42 354.95L241.52 352.55L241.61 350.23L241.71 347.98L241.81 345.82L241.91 343.72L242.02 341.69L242.13 339.73L242.24 337.83L242.36 336.00L242.48 334.23L242.60 332.53L242.73 330.88L242.86 329.30L242.99 327.77L243.13 326.31L243.27 324.89L243.41 323.53L243.56 322.22L243.71 320.97L243.87 319.75L244.02 318.58L244.19 317.46L244.35 316.38L244.52 315.33L244.69 314.32L244.87 313.35L245.05 312.41L245.23 311.50L245.42 310.62L245.61 309.77L245.81 308.94L246.00 308.14L246.20 307.37L246.41 306.62L246.62 305.89L246.83 305.19L247.05 304.51L247.27 303.84L247.49 303.20L247.72 302.58L247.95 301.98L248.19 301.39L248.43 300.82L248.67 300.27L248.92 299.74L249.17 299.23L249.42 298.73L249.68 298.25L249.94 297.78L250.21 297.33L250.48 296.90L250.76 296.48L251.03 296.07L251.31 295.69L251.60 295.31L251.89 294.95L252.18 294.61L252.48 294.27L252.78 293.96L253.09 293.65L253.40 293.36L253.71 293.08L254.03 292.81L254.35 292.55L254.67 292.31L255.00 292.08L255.34 291.85L255.67 291.64L256.02 291.44L256.36 291.25L256.71 291.07L257.06 290.90L257.42 290.73L257.78 290.58L258.15 290.43L258.52 290.29L258.89 290.16L259.27 290.03L259.65 289.92L260.04 289.81L260.43 289.70L260.82 289.60L261.22 289.51L261.63 289.43L262.03 289.34L262.44 289.27L262.86 289.20L263.28 289.13L263.70 289.07L264.13 289.01L264.56 288.95L265.00 288.90L265.44 288.85L265.88 288.81L266.33 288.77L266.78 288.73L267.24 288.69L267.70 288.66L268.17 288.63L268.64 288.60L269.11 288.57L269.59 288.55L270.07 288.53L270.56 288.51L271.05 288.49L271.55 288.47L272.05 288.45L272.05 288.46L272.05 288.52L272.05 288.68L272.05 288.99L272.05 289.51L272.05 290.27L272.05 291.33L272.05 292.72L272.06 294.50L272.06 296.70L272.06 299.34L272.06 302.45L272.07 306.05L272.07 310.15L272.08 314.74L272.09 319.82L272.09 325.37L272.10 331.35L272.11 337.74L272.12 344.46L272.13 351.48L272.15 358.73L272.16 366.13L272.18 373.62L272.19 381.11L272.21 388.54L272.23 395.82L272.25 402.90L272.27 409.71L272.30 416.19L272.32 422.31L272.35 428.03L272.38 433.33L272.41 438.19L272.44 442.61L272.48 446.60L272.51 450.18L272.55 453.37L272.59 456.20L272.63 458.69L272.68 460.89L272.73 462.82L272.78 464.53L272.83 466.04L272.88 467.39L272.94 468.61L273.00 469.71L273.06 470.72L273.13 471.66L273.19 472.55L273.26 473.39L273.34 474.19L273.41 474.96L273.49 475.70L273.57 476.42L273.66 477.13L273.74 477.81L273.83 478.48L273.93 479.13L274.03 479.76L274.13 480.38L274.23 480.98L274.34 481.56L274.45 482.13L274.56 482.67L274.68 483.21L274.80 483.72L274.93 484.22L275.06 484.70L275.19 485.17L275.32 485.62L275.46 486.06L275.61 486.49L275.76 486.90L275.91 487.30L276.07 487.68L276.23 488.06L276.39 488.43L276.56 488.78L276.73 489.13L276.91 489.47L277.09 489.81L277.28 490.13L277.47 490.45L277.67 490.77L277.87 491.08L278.08 491.38L278.29 491.68L278.50 491.98L278.72 492.27L278.95 492.56L279.18 492.85L279.41 493.13L279.65 493.41L279.90 493.69L280.15 493.97L280.40 494.24L280.66 494.51L280.93 494.78L281.20 495.04L281.48 495.31L281.76 495.57L282.05 495.83L282.34 496.08L282.64 496.33L282.95 496.58L283.26 496.83L283.58 497.07L283.90 497.31L284.23 497.55L284.56 497.78L284.91 498.01L285.25 498.24L285.61 498.46L285.97 498.68L286.33 498.89L286.71 499.10L287.09 499.30L287.47 499.51L287.86 499.70L288.26 499.90L288.67 500.08L289.08 500.27L289.50 500.45L289.92 500.62L290.36 500.79L290.79 500.96L291.24 501.12L291.69 501.28L292.15 501.43L292.62 501.58L293.10 501.72L293.58 501.86L294.07 501.99L294.57 502.12L295.07 502.25L295.58 502.37L296.10 502.48L296.63 502.59L297.16 502.70L297.70 502.81L298.25 502.91L298.81 503.00L299.38 503.09L299.95 503.18L300.53 503.27L301.12 503.35L301.72 503.43L302.32 503.50L302.94 503.57L303.56 503.64L304.19 503.70L304.83 503.76L305.47 503.82L306.13 503.88L306.79 503.93L307.46 503.98L308.15 504.02L308.84 504.07L309.53 504.11L309.53 504.11L309.53 504.11L309.54 503.70L309.54 502.28L309.55 500.18L309.55 497.40L309.56 493.97L309.57 489.93L309.59 485.32L309.60 480.23L309.62 474.73L309.64 468.90L309.66 462.85L309.69 456.64L309.72 450.38L309.75 444.14L309.78 437.98L309.81 431.96L309.85 426.14L309.89 420.54L309.93 415.19L309.98 410.10L310.03 405.28L310.08 400.72L310.13 396.41L310.19 392.33L310.24 388.48L310.31 384.82L310.37 381.33L310.44 378.01L310.51 374.83L310.58 371.78L310.66 368.83L310.74 365.99L310.82 363.25L310.90 360.58L310.99 358.00L311.08 355.50L311.17 353.07L311.27 350.72L311.37 348.44L311.47 346.23L311.58 344.09L311.69 342.03L311.80 340.04L311.91 338.12L312.03 336.27L312.15 334.49L312.27 332.79L312.40 331.15L312.53 329.58L312.67 328.07L312.80 326.63L312.94 325.25L313.08 323.93L313.23 322.67L313.38 321.46L313.53 320.31L313.69 319.21L313.85 318.15L314.01 317.14L314.18 316.18L314.35 315.25L314.52 314.37L314.69 313.52L314.87 312.70L315.06 311.92L315.24 311.17L315.43 310.45L315.62 309.76L315.82 309.09L316.02 308.45L316.22 307.83L316.43 307.23L316.64 306.65L316.85 306.10L317.07 305.56L317.29 305.04L317.51 304.54L317.74 304.05L317.97 303.58L318.20 303.13L318.44 302.69L318.68 302.27L318.92 301.86L319.17 301.46L319.42 301.08L319.67 300.71L319.93 300.35L320.19 300.01L320.46 299.67L320.73 299.35L321.00 299.04L321.28 298.74L321.56 298.46L321.84 298.18L322.13 297.91L322.42 297.66L322.71 297.41L323.01 297.17L323.31 296.94L323.61 296.73L323.92 296.52L324.24 296.32L324.55 296.13L324.87 295.94L325.19 295.77L325.52 295.60L325.85 295.44L326.19 295.29L326.52 295.14L326.87 295.00L327.21 294.87L327.56 294.75L327.91 294.63L328.27 294.51L328.63 294.41L328.99 294.30L329.36 294.21L329.73 294.12L330.11 294.03L330.49 293.95L330.87 293.87L331.26 293.80L331.65 293.73L332.04 293.66L332.44 293.60L332.84 293.55L333.25 293.49L333.66 293.44L334.07 293.39L334.49 293.35L334.91 293.31L335.33 293.27L335.76 293.23L336.19 293.20L336.63 293.16L337.07 293.13L337.52 293.10L337.96 293.08L338.41 293.05L338.42 293.06L338.42 293.12L338.42 293.28L338.42 293.59L338.42 294.09L338.42 294.85L338.42 295.89L338.42 297.28L338.42 299.03L338.42 301.20L338.43 303.81L338.43 306.89L338.44 310.44L338.44 314.49L338.45 319.02L338.45 324.03L338.46 329.50L338.47 335.39L338.48 341.67L338.49 348.29L338.50 355.18L338.51 362.30L338.53 369.56L338.54 376.89L338.56 384.22L338.58 391.47L338.60 398.58L338.62 405.47L338.64 412.10L338.67 418.39L338.69 424.33L338.72 429.86L338.75 434.98L338.78 439.67L338.81 443.93L338.85 447.77L338.89 451.21L338.93 454.27L338.97 456.98L339.01 459.37L339.06 461.48L339.10 463.34L339.15 464.98L339.21 466.44L339.26 467.75L339.32 468.92L339.38 470.00L339.44 470.99L339.51 471.92L339.58 472.79L339.65 473.62L339.72 474.41L339.80 475.18L339.88 475.92L339.96 476.64L340.05 477.34L340.14 478.02L340.23 478.69L340.33 479.33L340.42 479.96L340.53 480.58L340.63 481.18L340.74 481.76L340.85 482.32L340.97 482.86L341.09 483.39L341.21 483.90L341.34 484.40L341.47 484.88L341.61 485.34L341.74 485.79L341.89 486.23L342.03 486.65L342.18 487.06L342.34 487.46L342.50 487.84L342.66 488.21L342.83 488.58L343.00 488.93L343.18 489.28L343.36 489.62L343.54 489.95L343.73 490.28L343.93 490.60L344.13 490.91L344.33 491.22L344.54 491.52L344.75 491.82L344.97 492.12L345.20 492.41L345.42 492.70L345.66 492.99L345.90 493.27L346.14 493.55L346.39 493.83L346.64 494.11L346.90 494.38L347.17 494.65L347.44 494.92L347.72 495.19L348.00 495.45L348.29 495.71L348.58 495.97L348.88 496.22L349.18 496.48L349.49 496.73L349.81 496.97L350.13 497.21L350.46 497.45L350.80 497.69L351.14 497.92L351.48 498.15L351.84 498.37L352.20 498.59L352.56 498.81L352.93 499.02L353.31 499.23L353.70 499.43L354.09 499.63L354.49 499.83L354.89 500.02L355.31 500.21L355.72 500.39L356.15 500.57L356.58 500.74L357.02 500.91L357.47 501.07L357.92 501.23L358.38 501.38L358.85 501.53L359.33 501.68L359.81 501.82L360.30 501.95L360.80 502.09L361.30 502.21L361.81 502.33L362.33 502.45L362.86 502.57L363.40 502.68L363.94 502.78L364.49 502.88L365.05 502.98L365.61 503.07L366.19 503.16L366.77 503.25L367.36 503.33L367.96 503.41L368.57 503.49L369.18 503.56L369.81 503.62L370.44 503.69L371.08 503.75L371.73 503.81L372.39 503.87L373.05 503.92L373.73 503.97L374.41 504.02L375.10 504.06L375.80 504.10L376.51 504.15L376.51 504.15L376.51 504.15L376.52 503.86L376.52 502.66L376.52 500.89L376.53 498.54L376.54 495.62L376.55 492.16L376.56 488.21L376.58 483.81L376.59 479.02L376.61 473.91L376.63 468.55L376.65 463.00L376.68 457.34L376.70 451.63L376.73 445.94L376.76 440.31L376.80 434.79L376.83 429.41L376.87 424.21L376.91 419.20L376.95 414.40L377.00 409.81L377.05 405.43L377.10 401.25L377.15 397.26L377.20 393.45L377.26 389.81L377.32 386.33L377.38 382.98L377.45 379.76L377.52 376.66L377.59 373.66L377.66 370.75L377.74 367.94L377.81 365.21L377.90 362.56L377.98 359.98L378.07 357.48L378.15 355.06L378.25 352.71L378.34 350.43L378.44 348.22L378.54 346.09L378.64 344.02L378.74 342.04L378.85 340.12L378.96 338.28L379.08 336.51L379.19 334.81L379.31 333.18L379.43 331.61L379.56 330.12L379.69 328.69L379.82 327.32L379.95 326.02L380.09 324.77L380.23 323.58L380.37 322.44L380.52 321.36L380.66 320.32L380.81 319.34L380.97 318.39L381.13 317.49L381.29 316.63L381.45 315.81L381.61 315.02L381.78 314.27L381.96 313.55L382.13 312.86L382.31 312.19L382.49 311.56L382.67 310.95L382.86 310.36L383.05 309.79L383.24 309.25L383.44 308.72L383.64 308.21L383.84 307.72L384.05 307.25L384.26 306.79L384.47 306.35L384.68 305.92L384.90 305.51L385.12 305.11L385.35 304.72L385.58 304.34L385.81 303.98L386.04 303.63L386.28 303.28L386.52 302.95L386.76 302.63L387.01 302.32L387.26 302.02L387.51 301.73L387.77 301.45L388.03 301.18L388.29 300.92L388.56 300.66L388.82 300.42L389.10 300.18L389.37 299.95L389.65 299.73L389.93 299.52L390.22 299.32L390.51 299.12L390.80 298.93L391.10 298.75L391.39 298.57L391.70 298.41L392.00 298.25L392.31 298.09L392.62 297.94L392.94 297.80L393.26 297.66L393.58 297.53L393.90 297.41L394.23 297.29L394.56 297.18L394.90 297.07L395.24 296.96L395.58 296.86L395.93 296.77L396.28 296.68L396.63 296.60L396.98 296.51L397.34 296.44L397.70 296.36L398.07 296.29L398.44 296.23L398.81 296.17L399.19 296.11L399.57 296.05L399.95 296.00L400.34 295.95L400.73 295.90L401.12 295.86L401.52 295.81L401.92 295.78L402.32 295.74L402.32 295.75L402.32 295.80L402.32 295.96L402.32 296.25L402.32 296.75L402.32 297.47L402.33 298.49L402.33 299.83L402.33 301.53L402.33 303.63L402.34 306.16L402.34 309.14L402.34 312.58L402.35 316.51L402.35 320.90L402.36 325.77L402.37 331.08L402.38 336.81L402.39 342.92L402.40 349.36L402.41 356.08L402.42 363.02L402.43 370.11L402.45 377.29L402.47 384.46L402.48 391.58L402.50 398.56L402.52 405.35L402.55 411.88L402.57 418.10L402.60 423.97L402.62 429.46L402.65 434.55L402.68 439.22L402.72 443.48L402.75 447.32L402.79 450.77L402.83 453.85L402.87 456.58L402.91 458.99L402.95 461.12L403.00 463.00L403.05 464.67L403.10 466.15L403.16 467.47L403.21 468.66L403.27 469.75L403.34 470.75L403.40 471.69L403.47 472.56L403.54 473.40L403.61 474.19L403.69 474.96L403.76 475.70L403.85 476.43L403.93 477.13L404.02 477.81L404.11 478.48L404.20 479.13L404.30 479.76L404.40 480.38L404.50 480.98L404.61 481.56L404.72 482.13L404.84 482.67L404.95 483.21L405.08 483.72L405.20 484.22L405.33 484.70L405.46 485.17L405.60 485.62L405.74 486.06L405.88 486.49L406.03 486.90L406.18 487.30L406.34 487.68L406.50 488.06L406.67 488.43L406.84 488.78L407.01 489.13L407.19 489.47L407.37 489.81L407.56 490.13L407.75 490.45L407.94 490.77L408.14 491.08L408.35 491.38L408.56 491.68L408.77 491.98L408.99 492.27L409.22 492.56L409.45 492.85L409.68 493.13L409.92 493.41L410.17 493.69L410.42 493.97L410.68 494.24L410.94 494.51L411.20 494.78L411.47 495.04L411.75 495.31L412.03 495.57L412.32 495.83L412.62 496.08L412.92 496.33L413.22 496.58L413.53 496.83L413.85 497.07L414.17 497.31L414.50 497.55L414.84 497.78L415.18 498.01L415.53 498.24L415.88 498.46L416.24 498.68L416.61 498.89L416.98 499.10L417.36 499.30L417.74 499.51L418.14 499.70L418.54 499.90L418.94 500.08L419.35 500.27L419.77 500.45L420.20 500.62L420.63 500.79L421.07 500.96L421.52 501.12L421.97 501.28L422.43 501.43L422.90 501.58L423.37 501.72L423.85 501.86L424.34 501.99L424.84 502.12L425.34 502.25L425.85 502.37L426.37 502.48L426.90 502.59L427.43 502.70L427.98 502.81L428.53 502.91L429.08 503.00L429.65 503.09L430.22 503.18L430.80 503.27L431.39 503.35L431.99 503.43L432.60 503.50L433.21 503.57L433.83 503.64L434.46 503.70L435.10 503.76L435.75 503.82L436.40 503.88L437.07 503.93L437.74 503.98L438.42 504.02L439.11 504.07L439.81 504.11L439.81 504.11L439.81 504.11L439.81 503.85L439.81 502.64L439.82 500.86L439.83 498.50L439.83 495.57L439.85 492.11L439.86 488.15L439.87 483.74L439.89 478.96L439.91 473.86L439.93 468.52L439.96 463.01L439.98 457.39L440.01 451.73L440.04 446.09L440.07 440.52L440.11 435.05L440.15 429.73L440.19 424.57L440.23 419.60L440.28 414.81L440.33 410.22L440.38 405.82L440.43 401.60L440.49 397.56L440.55 393.68L440.61 389.95L440.67 386.36L440.74 382.89L440.81 379.54L440.88 376.30L440.96 373.15L441.04 370.11L441.12 367.15L441.20 364.28L441.29 361.50L441.38 358.80L441.47 356.19L441.56 353.66L441.66 351.21L441.76 348.86L441.87 346.58L441.97 344.40L442.08 342.30L442.20 340.28L442.31 338.35L442.43 336.50L442.55 334.74L442.68 333.05L442.81 331.45L442.94 329.92L443.07 328.47L443.21 327.09L443.35 325.78L443.49 324.53L443.64 323.35L443.79 322.23L443.94 321.16L444.09 320.15L444.25 319.20L444.42 318.29L444.58 317.42L444.75 316.60L444.92 315.82L445.09 315.08L445.27 314.37L445.45 313.70L445.64 313.06L445.83 312.44L446.02 311.86L446.21 311.29L446.41 310.76L446.61 310.24L446.81 309.74L447.02 309.27L447.23 308.81L447.44 308.37L447.66 307.94L447.88 307.53L448.10 307.13L448.33 306.75L448.56 306.38L448.80 306.03L449.03 305.68L449.27 305.35L449.52 305.02L449.76 304.71L450.01 304.41L450.27 304.12L450.53 303.83L450.79 303.56L451.05 303.30L451.32 303.04L451.59 302.80L451.86 302.56L452.14 302.33L452.42 302.11L452.71 301.89L453.00 301.69L453.29 301.49L453.59 301.30L453.88 301.11L454.19 300.93L454.49 300.76L454.80 300.60L455.11 300.44L455.43 300.29L455.75 300.15L456.07 300.01L456.40 299.88L456.73 299.75L457.07 299.63L457.40 299.51L457.75 299.40L458.09 299.30L458.44 299.20L458.79 299.10L459.15 299.01L459.51 298.92L459.87 298.84L460.24 298.76L460.61 298.69L460.98 298.62L461.36 298.55L461.74 298.48L462.12 298.42L462.51 298.37L462.90 298.31L463.30 298.26L463.70 298.21L464.10 298.17L464.51 298.12L464.92 298.08L465.33 298.05L465.75 298.01L466.17 297.98L466.60 297.94L467.03 297.91L467.46 297.89L467.46 297.89L467.46 297.95L467.46 298.09L467.46 298.38L467.46 298.85L467.46 299.54L467.46 300.51L467.46 301.79L467.47 303.41L467.47 305.42L467.47 307.84L467.48 310.69L467.48 313.99L467.48 317.75L467.49 321.97L467.50 326.64L467.50 331.74L467.51 337.26L467.52 343.15L467.53 349.37L467.54 355.88L467.55 362.61L467.57 369.50L467.58 376.49L467.60 383.50L467.62 390.47L467.63 397.33L467.65 404.02L467.68 410.48L467.70 416.66L467.72 422.52L467.75 428.01L467.78 433.13L467.81 437.84L467.84 442.16L467.87 446.07L467.91 449.60L467.95 452.76L467.99 455.57L468.03 458.06L468.07 460.27L468.12 462.22L468.16 463.95L468.21 465.49L468.27 466.86L468.32 468.09L468.38 469.21L468.44 470.24L468.50 471.20L468.57 472.09L468.63 472.94L468.70 473.74L468.78 474.52L468.85 475.27L468.93 475.99L469.01 476.70L469.10 477.38L469.19 478.05L469.28 478.71L469.37 479.34L469.47 479.96L469.57 480.57L469.67 481.16L469.78 481.73L469.89 482.28L470.00 482.82L470.12 483.34L470.24 483.85L470.37 484.34L470.50 484.81L470.63 485.27L470.76 485.71L470.90 486.14L471.05 486.56L471.19 486.97L471.35 487.36L471.50 487.74L471.66 488.11L471.82 488.47L471.99 488.82L472.16 489.17L472.34 489.50L472.52 489.83L472.71 490.15L472.90 490.47L473.09 490.78L473.29 491.09L473.49 491.39L473.70 491.69L473.91 491.98L474.13 492.27L474.35 492.56L474.58 492.84L474.81 493.12L475.05 493.40L475.29 493.67L475.54 493.95L475.79 494.22L476.05 494.48L476.31 494.75L476.58 495.01L476.85 495.27L477.13 495.53L477.42 495.79L477.71 496.04L478.00 496.29L478.30 496.54L478.61 496.78L478.92 497.02L479.24 497.26L479.57 497.50L479.90 497.73L480.23 497.95L480.57 498.18L480.92 498.40L481.28 498.61L481.64 498.83L482.00 499.04L482.38 499.24L482.76 499.44L483.14 499.64L483.53 499.83L483.93 500.02L484.34 500.20L484.75 500.38L485.17 500.55L485.59 500.72L486.02 500.89L486.46 501.05L486.91 501.21L487.36 501.36L487.82 501.51L488.28 501.65L488.76 501.79L489.24 501.93L489.73 502.06L490.22 502.18L490.72 502.30L491.23 502.42L491.75 502.53L492.27 502.64L492.80 502.75L493.34 502.85L493.89 502.95L494.44 503.04L495.01 503.13L495.58 503.21L496.15 503.30L496.74 503.38L497.33 503.45L497.94 503.52L498.54 503.59L499.16 503.66L499.79 503.72L500.42 503.78L501.06 503.84L501.71 503.89L502.37 503.94L503.04 503.99L503.72 504.03L503.72 504.03L503.72 504.04L503.72 503.95L503.72 502.89L503.73 501.31L503.73 499.22L503.74 496.63L503.75 493.57L503.77 490.05L503.78 486.15L503.80 481.89L503.82 477.35L503.84 472.57L503.87 467.63L503.89 462.57L503.92 457.45L503.95 452.33L503.99 447.24L504.02 442.21L504.06 437.29L504.10 432.47L504.15 427.79L504.19 423.25L504.24 418.85L504.29 414.59L504.35 410.46L504.40 406.46L504.46 402.58L504.53 398.81L504.59 395.14L504.66 391.57L504.73 388.08L504.80 384.67L504.88 381.34L504.96 378.09L505.04 374.91L505.12 371.80L505.21 368.77L505.30 365.81L505.40 362.93L505.49 360.13L505.59 357.41L505.69 354.77L505.80 352.21L505.91 349.74L506.02 347.36L506.13 345.07L506.25 342.87L506.37 340.75L506.49 338.73L506.62 336.79L506.75 334.94L506.88 333.18L507.02 331.50L507.15 329.90L507.30 328.38L507.44 326.94L507.59 325.57L507.74 324.28L507.89 323.06L508.05 321.90L508.21 320.81L508.37 319.77L508.54 318.80L508.71 317.87L508.89 317.00L509.06 316.18L509.24 315.41L509.42 314.67L509.61 313.98L509.80 313.32L509.99 312.70L510.19 312.11L510.39 311.56L510.59 311.03L510.80 310.53L511.01 310.05L511.22 309.60L511.44 309.17L511.66 308.76L511.88 308.36L512.10 307.99L512.33 307.63L512.57 307.29L512.80 306.96L513.04 306.65L513.29 306.34L513.53 306.06L513.78 305.78L514.04 305.51L514.29 305.25L514.55 305.01L514.82 304.77L515.08 304.54L515.35 304.32L515.63 304.11L515.91 303.90L516.19 303.71L516.47 303.52L516.76 303.34L517.05 303.16L517.35 302.99L517.65 302.83L517.95 302.68L518.25 302.53L518.56 302.38L518.88 302.25L519.19 302.11L519.51 301.99L519.84 301.87L520.16 301.75L520.49 301.64L520.83 301.53L521.17 301.43L521.51 301.33L521.85 301.24L522.20 301.15L522.55 301.07L522.91 300.98L523.27 300.91L523.63 300.83L524.00 300.76L524.37 300.70L524.75 300.63L525.12 300.57L525.51 300.52L525.89 300.46L526.28 300.41L526.67 300.36L527.07 300.32L527.47 300.27L527.87 300.23L528.28 300.20L528.69 300.16L529.11 300.12L529.53 300.09L529.95 300.06L530.37 300.03L530.80 300.01L531.24 299.98L531.68 299.96L531.68 299.96L531.68 300.02L531.68 300.17L531.68 300.45L531.68 300.93L531.68 301.63L531.68 302.61L531.68 303.90L531.68 305.55L531.68 307.58L531.69 310.02L531.69 312.90L531.70 316.24L531.70 320.03L531.71 324.29L531.71 328.99L531.72 334.13L531.73 339.68L531.74 345.60L531.75 351.85L531.76 358.36L531.77 365.10L531.79 371.98L531.80 378.95L531.82 385.93L531.83 392.85L531.85 399.65L531.87 406.27L531.90 412.64L531.92 418.72L531.95 424.46L531.97 429.84L532.00 434.83L532.03 439.42L532.06 443.60L532.10 447.39L532.14 450.79L532.17 453.83L532.21 456.53L532.26 458.92L532.30 461.04L532.35 462.91L532.40 464.57L532.45 466.04L532.50 467.36L532.56 468.55L532.62 469.64L532.68 470.64L532.74 471.58L532.81 472.46L532.88 473.29L532.95 474.09L533.03 474.85L533.10 475.60L533.19 476.32L533.27 477.02L533.36 477.71L533.45 478.37L533.54 479.03L533.64 479.66L533.74 480.28L533.84 480.88L533.94 481.46L534.05 482.03L534.17 482.58L534.28 483.11L534.41 483.63L534.53 484.13L534.66 484.61L534.79 485.08L534.92 485.54L535.06 485.98L535.21 486.40L535.35 486.81L535.50 487.21L535.66 487.60L535.82 487.98L535.98 488.35L536.15 488.71L536.32 489.06L536.50 489.40L536.68 489.73L536.87 490.06L537.05 490.38L537.25 490.69L537.45 491.00L537.65 491.31L537.86 491.61L538.07 491.91L538.29 492.20L538.52 492.49L538.74 492.78L538.98 493.06L539.21 493.34L539.46 493.62L539.71 493.89L539.96 494.17L540.22 494.44L540.48 494.71L540.75 494.97L541.03 495.23L541.31 495.50L541.59 495.75L541.89 496.01L542.18 496.26L542.49 496.51L542.79 496.76L543.11 497.00L543.43 497.24L543.76 497.48L544.09 497.71L544.43 497.94L544.77 498.17L545.12 498.39L545.48 498.61L545.84 498.82L546.21 499.03L546.59 499.24L546.97 499.44L547.36 499.64L547.75 499.83L548.16 500.02L548.57 500.21L548.98 500.39L549.40 500.56L549.83 500.73L550.27 500.90L550.71 501.06L551.16 501.22L551.62 501.37L552.08 501.52L552.55 501.67L553.03 501.81L553.51 501.94L554.01 502.07L554.51 502.20L555.01 502.32L555.53 502.44L556.05 502.55L556.58 502.66L557.12 502.77L557.66 502.87L558.22 502.97L558.78 503.06L559.35 503.15L559.92 503.23L560.51 503.32L561.10 503.39L561.70 503.47L562.31 503.54L562.93 503.61L563.55 503.67L564.18 503.74L564.82 503.80L565.47 503.85L566.13 503.91L566.80 503.96L567.48 504.00L568.16 504.05L568.85 504.09L568.85 504.09L568.85 504.09L568.85 504.08L568.86 503.19L568.86 501.88L568.87 500.14L568.88 497.97L568.89 495.40L568.90 492.44L568.92 489.12L568.93 485.49L568.95 481.59L568.97 477.46L568.99 473.15L569.02 468.69L569.05 464.15L569.08 459.55L569.11 454.92L569.14 450.31L569.18 445.73L569.22 441.21L569.26 436.75L569.30 432.38L569.35 428.09L569.40 423.89L569.45 419.78L569.50 415.75L569.56 411.81L569.62 407.95L569.68 404.16L569.74 400.45L569.81 396.80L569.88 393.22L569.95 389.70L570.03 386.24L570.10 382.85L570.18 379.53L570.27 376.27L570.35 373.08L570.44 369.96L570.53 366.92L570.63 363.95L570.72 361.07L570.82 358.26L570.92 355.55L571.03 352.92L571.14 350.38L571.25 347.93L571.36 345.57L571.48 343.31L571.60 341.14L571.72 339.06L571.84 337.08L571.97 335.18L572.10 333.38L572.24 331.66L572.37 330.03L572.51 328.48L572.65 327.01L572.80 325.62L572.95 324.31L573.10 323.07L573.26 321.90L573.41 320.80L573.57 319.76L573.74 318.79L573.90 317.87L574.07 317.00L574.25 316.19L574.42 315.43L574.60 314.71L574.79 314.03L574.97 313.40L575.16 312.80L575.35 312.24L575.55 311.71L575.74 311.21L575.94 310.74L576.15 310.29L576.36 309.88L576.57 309.48L576.78 309.10L577.00 308.75L577.22 308.41L577.44 308.09L577.67 307.79L577.90 307.50L578.13 307.22L578.37 306.96L578.61 306.71L578.85 306.47L579.09 306.24L579.34 306.02L579.60 305.81L579.85 305.61L580.11 305.41L580.37 305.22L580.64 305.05L580.91 304.87L581.18 304.71L581.46 304.55L581.74 304.39L582.02 304.25L582.30 304.11L582.59 303.97L582.88 303.84L583.18 303.71L583.48 303.59L583.78 303.47L584.09 303.36L584.40 303.25L584.71 303.15L585.03 303.05L585.34 302.95L585.67 302.86L585.99 302.77L586.32 302.69L586.66 302.61L586.99 302.53L587.33 302.45L587.68 302.38L588.02 302.32L588.37 302.25L588.73 302.19L589.08 302.13L589.45 302.07L589.81 302.02L590.18 301.97L590.55 301.92L590.92 301.87L591.30 301.83L591.68 301.78L592.07 301.74L592.46 301.71L592.85 301.67L593.24 301.64L593.64 301.60L594.05 301.57L594.45 301.54L594.86 301.52L595.28 301.49L595.28 301.50L595.28 301.55L595.28 301.70L595.28 301.99L595.28 302.47L595.28 303.18L595.28 304.16L595.28 305.46L595.28 307.12L595.29 309.16L595.29 311.62L595.29 314.52L595.30 317.87L595.30 321.68L595.31 325.95L595.31 330.68L595.32 335.83L595.33 341.39L595.34 347.32L595.35 353.58L595.36 360.09L595.37 366.82L595.39 373.69L595.40 380.63L595.42 387.58L595.44 394.47L595.46 401.22L595.48 407.77L595.50 414.08L595.53 420.08L595.55 425.75L595.58 431.04L595.61 435.94L595.64 440.44L595.67 444.54L595.71 448.24L595.74 451.56L595.78 454.52L595.82 457.15L595.87 459.47L595.91 461.53L595.96 463.35L596.01 464.96L596.06 466.39L596.12 467.68L596.17 468.85L596.23 469.92L596.30 470.90L596.36 471.82L596.43 472.69L596.50 473.52L596.57 474.31L596.65 475.07L596.73 475.81L596.81 476.53L596.90 477.23L596.98 477.92L597.08 478.58L597.17 479.23L597.27 479.86L597.37 480.48L597.47 481.08L597.58 481.66L597.69 482.22L597.81 482.77L597.93 483.30L598.05 483.81L598.18 484.31L598.31 484.79L598.44 485.26L598.58 485.71L598.72 486.15L598.87 486.57L599.01 486.98L599.17 487.38L599.33 487.76L599.49 488.14L599.65 488.50L599.83 488.86L600.00 489.21L600.18 489.55L600.36 489.88L600.55 490.20L600.74 490.52L600.94 490.84L601.14 491.15L601.35 491.45L601.56 491.75L601.78 492.05L602.00 492.34L602.23 492.63L602.46 492.92L602.70 493.20L602.94 493.48L603.19 493.76L603.44 494.04L603.70 494.31L603.96 494.58L604.23 494.85L604.50 495.12L604.78 495.38L605.07 495.64L605.36 495.90L605.65 496.15L605.96 496.41L606.26 496.65L606.58 496.90L606.90 497.14L607.22 497.38L607.56 497.62L607.89 497.85L608.24 498.08L608.59 498.30L608.95 498.53L609.31 498.74L609.68 498.96L610.05 499.16L610.44 499.37L610.82 499.57L611.22 499.77L611.62 499.96L612.03 500.15L612.45 500.33L612.87 500.51L613.30 500.68L613.73 500.85L614.18 501.01L614.63 501.17L615.08 501.33L615.55 501.48L616.02 501.63L616.50 501.77L616.98 501.91L617.48 502.04L617.98 502.17L618.48 502.29L619.00 502.41L619.52 502.53L620.05 502.64L620.59 502.74L621.14 502.85L621.69 502.94L622.26 503.04L622.83 503.13L623.40 503.22L623.99 503.30L624.58 503.38L625.19 503.46L625.80 503.53L626.42 503.60L627.04 503.66L627.68 503.73L628.32 503.79L628.97 503.84L629.63 503.90L630.30 503.95L630.98 504.00L631.67 504.04L632.36 504.09L633.07 504.13"/>
</g>
<g stroke="#000" stroke-width="3.60" fill="none" stroke-linecap="butt">
<path d="M111.05 42.80 V544.84"/>
<path d="M109.25 543.04 H788.80"/>
<path d="M111.05 504.70 h-9.2M111.05 428.02 h-9.2M111.05 351.33 h-9.2M111.05 274.65 h-9.2M111.05 197.97 h-9.2M111.05 121.28 h-9.2M111.05 44.60 h-9.2M111.05 543.04 h-5.4M111.05 466.36 h-5.4M111.05 389.68 h-5.4M111.05 312.99 h-5.4M111.05 236.31 h-5.4M111.05 159.62 h-5.4M111.05 82.94 h-5.4M172.50 543.04 v8.8M295.40 543.04 v8.8M418.30 543.04 v8.8M541.20 543.04 v8.8M664.10 543.04 v8.8M787.00 543.04 v8.8M111.05 543.04 v5.0M233.95 543.04 v5.0M356.85 543.04 v5.0M479.75 543.04 v5.0M602.65 543.04 v5.0M725.55 543.04 v5.0"/>
</g>
<g font-family='"Liberation Sans", Arial, Helvetica, sans-serif' font-size="32.40" fill="#000" stroke="#000" stroke-width="0.35">
<text x="95.60" y="514.00" text-anchor="end">0</text>
<text x="95.60" y="437.32" text-anchor="end">10</text>
<text x="95.60" y="360.63" text-anchor="end">20</text>
<text x="95.60" y="283.95" text-anchor="end">30</text>
<text x="95.60" y="207.27" text-anchor="end">40</text>
<text x="95.60" y="130.58" text-anchor="end">50</text>
<text x="95.60" y="53.90" text-anchor="end">60</text>
<text x="171.90" y="583.60" text-anchor="middle">0</text>
<text x="294.80" y="583.60" text-anchor="middle">20</text>
<text x="417.70" y="583.60" text-anchor="middle">40</text>
<text x="540.60" y="583.60" text-anchor="middle">60</text>
<text x="663.50" y="583.60" text-anchor="middle">80</text>
<text x="786.40" y="583.60" text-anchor="middle">100</text>
<text x="449" y="635.8" text-anchor="middle" word-spacing="2.4">Time (h)</text>
<text transform="translate(28.5 278.4) rotate(-90)" text-anchor="middle">Moisture content (%)</text>
<text x="-0.8" y="33.7" font-size="40.50">(a)</text>
</g>
<rect x="676.9" y="206.7" width="140" height="185" fill="#fff" stroke="#333" stroke-width="1.5"/>
<path d="M681.3 229.70 H750.2" stroke="#000000" stroke-width="3.7" stroke-linecap="round" fill="none"/>
<text x="758.4" y="239.40" font-family='"Liberation Sans", Arial, Helvetica, sans-serif' font-size="32.40" fill="#000000" stroke="#000000" stroke-width="0.3">F<tspan font-size="21.00" dx="-0.9" dy="8.2">Et</tspan></text>
<path d="M681.3 274.45 H750.2" stroke="#ff0000" stroke-width="3.7" stroke-linecap="round" fill="none"/>
<text x="758.4" y="284.15" font-family='"Liberation Sans", Arial, Helvetica, sans-serif' font-size="32.40" fill="#800000" stroke="#800000" stroke-width="0.3">F<tspan font-size="21.00" dx="-0.9" dy="8.2">Ac</tspan></text>
<path d="M681.3 319.20 H750.2" stroke="#ff00ff" stroke-width="3.7" stroke-linecap="round" fill="none"/>
<text x="758.4" y="328.90" font-family='"Liberation Sans", Arial, Helvetica, sans-serif' font-size="32.40" fill="#008080" stroke="#008080" stroke-width="0.3">F<tspan font-size="21.00" dx="-0.9" dy="8.2">Ca</tspan></text>
<path d="M681.3 363.95 H750.2" stroke="#0000ff" stroke-width="3.7" stroke-linecap="round" fill="none"/>
<text x="758.4" y="373.65" font-family='"Liberation Sans", Arial, Helvetica, sans-serif' font-size="32.40" fill="#0000ff" stroke="#0000ff" stroke-width="0.3">F<tspan font-size="21.00" dx="-0.9" dy="8.2">HCl</tspan></text>
<rect x="979.70" y="314.78" width="135.00" height="230.22" fill="#000000" stroke="#1a1a1a" stroke-width="0.8"/>
<rect x="1148.50" y="294.37" width="135.50" height="250.63" fill="#ff0000" stroke="#1a1a1a" stroke-width="0.8"/>
<rect x="1318.00" y="94.78" width="134.20" height="450.22" fill="#ff00ff" stroke="#1a1a1a" stroke-width="0.8"/>
<rect x="1486.40" y="163.12" width="135.20" height="381.88" fill="#0000ff" stroke="#1a1a1a" stroke-width="0.8"/>
<g stroke="#000" stroke-width="3.60" fill="none" stroke-linecap="butt">
<path d="M962.70 43.20 V549.60"/>
<path d="M960.90 545.00 H1640.30"/>
<path d="M962.70 545.00 h-9.2M962.70 461.67 h-9.2M962.70 378.33 h-9.2M962.70 295.00 h-9.2M962.70 211.67 h-9.2M962.70 128.33 h-9.2M962.70 45.00 h-9.2M962.70 503.33 h-5.0M962.70 420.00 h-5.0M962.70 336.67 h-5.0M962.70 253.33 h-5.0M962.70 170.00 h-5.0M962.70 86.67 h-5.0M1047.17 545.00 v8.8M1216.12 545.00 v8.8M1385.08 545.00 v8.8M1554.03 545.00 v8.8M1131.65 545.00 v4.6M1300.60 545.00 v4.6M1469.55 545.00 v4.6M1638.50 545.00 v4.6"/>
</g>
<g font-family='"Liberation Sans", Arial, Helvetica, sans-serif' font-size="32.40" fill="#000" stroke="#000" stroke-width="0.35">
<text x="946.30" y="554.30" text-anchor="end">0</text>
<text x="946.30" y="470.97" text-anchor="end">2</text>
<text x="946.30" y="387.63" text-anchor="end">4</text>
<text x="946.30" y="304.30" text-anchor="end">6</text>
<text x="946.30" y="220.97" text-anchor="end">8</text>
<text x="946.30" y="137.63" text-anchor="end">10</text>
<text x="946.30" y="54.30" text-anchor="end">12</text>
<text x="1046.47" y="586.9" text-anchor="middle" font-size="31.6">F<tspan font-size="21.00" dx="1.1" dy="8.2">Et</tspan></text>
<text x="1215.42" y="586.9" text-anchor="middle" font-size="31.6">F<tspan font-size="21.00" dx="1.1" dy="8.2">Ac</tspan></text>
<text x="1384.38" y="586.9" text-anchor="middle" font-size="31.6">F<tspan font-size="21.00" dx="1.1" dy="8.2">Ca</tspan></text>
<text x="1553.33" y="586.9" text-anchor="middle" font-size="31.6">F<tspan font-size="21.00" dx="1.1" dy="8.2">HCl</tspan></text>
<text x="1301" y="640.6" text-anchor="middle">Coagulant</text>
<text transform="translate(887.7 289.6) rotate(-90)" text-anchor="middle">Limiting hornification (%)</text>
<text x="858.5" y="29.6" font-size="40.50">(b)</text>
</g>
</svg>
</body>
</html>
